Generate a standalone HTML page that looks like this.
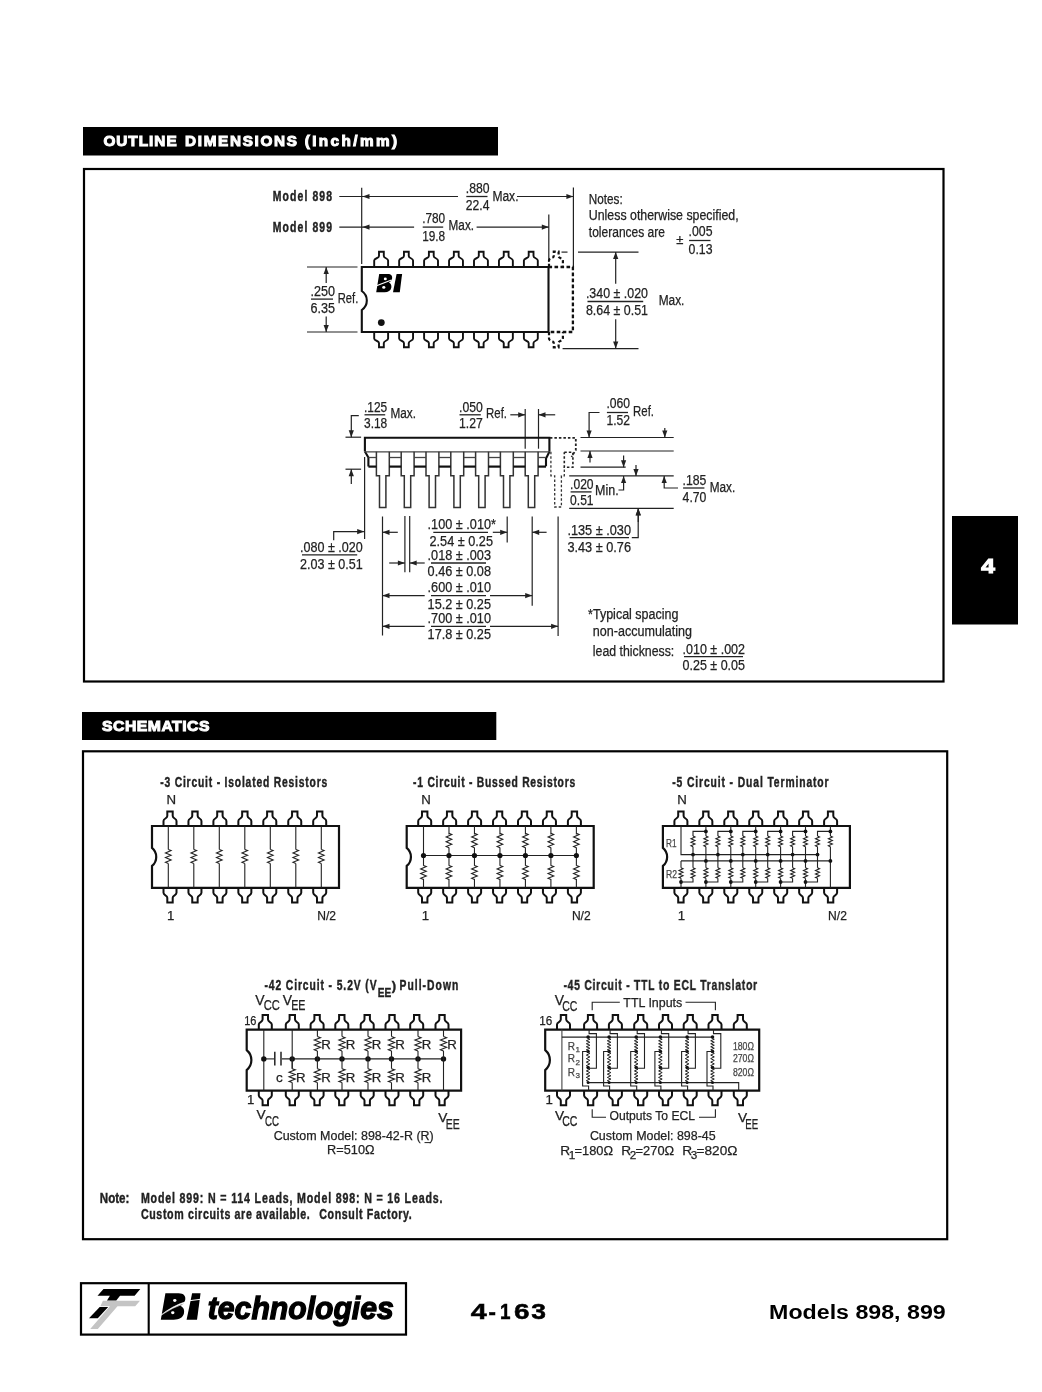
<!DOCTYPE html><html><head><meta charset="utf-8"><style>html,body{margin:0;padding:0;background:#fff;}svg{display:block;will-change:transform;font-family:"Liberation Sans", sans-serif;}</style></head><body><svg width="1042" height="1392" viewBox="0 0 1042 1392"><rect x="83" y="127" width="415" height="28.5" fill="#000"/>
<g transform="translate(103.4,145.8) scale(1.04,1) translate(-103.4,-145.8)"><text x="103.4" y="145.8" font-size="14.71" font-weight="bold" font-style="normal" fill="#fff" stroke="#fff" stroke-width="1.0" textLength="70.38" lengthAdjust="spacing">OUTLINE</text></g>
<g transform="translate(185,145.8) scale(1.04,1) translate(-185,-145.8)"><text x="185" y="145.8" font-size="14.71" font-weight="bold" font-style="normal" fill="#fff" stroke="#fff" stroke-width="1.0" textLength="107.69" lengthAdjust="spacing">DIMENSIONS</text></g>
<g transform="translate(304.7,145.8) scale(1.04,1) translate(-304.7,-145.8)"><text x="304.7" y="145.8" font-size="14.71" font-weight="bold" font-style="normal" fill="#fff" stroke="#fff" stroke-width="1.0" textLength="88.75" lengthAdjust="spacing">(Inch/mm)</text></g>
<rect x="84" y="169" width="859.5" height="512.5" fill="none" stroke="#000" stroke-width="2.2"/>
<rect x="952" y="516" width="66" height="108.5" fill="#000"/>
<text x="981.2" y="572.6" font-size="20" font-weight="bold" font-style="normal" fill="#fff" stroke="#fff" stroke-width="1.1" textLength="13.6" lengthAdjust="spacingAndGlyphs">4</text>
<rect x="82" y="712" width="414.3" height="28" fill="#000"/>
<g transform="translate(102,730.6) scale(1.04,1) translate(-102,-730.6)"><text x="102" y="730.6" font-size="15.15" font-weight="bold" font-style="normal" fill="#fff" stroke="#fff" stroke-width="1.0" textLength="103.37" lengthAdjust="spacing">SCHEMATICS</text></g>
<rect x="83" y="751.3" width="864.2" height="487.9" fill="none" stroke="#000" stroke-width="2.2"/>
<g transform="translate(272.8,201.5) scale(0.74,1) translate(-272.8,-201.5)"><text x="272.8" y="201.5" font-size="14.12" font-weight="bold" font-style="normal" fill="#222" stroke="#222" stroke-width="0.4" textLength="80" lengthAdjust="spacing">Model 898</text></g>
<g transform="translate(272.8,232.1) scale(0.74,1) translate(-272.8,-232.1)"><text x="272.8" y="232.1" font-size="14.12" font-weight="bold" font-style="normal" fill="#222" stroke="#222" stroke-width="0.4" textLength="80" lengthAdjust="spacing">Model 899</text></g>
<path d="M339.3,196.5 L458,196.5" fill="none" stroke="#222" stroke-width="1.2" stroke-linecap="butt" stroke-linejoin="miter"/>
<path d="M362.5,196.5 L369.5,193.9 L369.5,199.1Z" fill="#222"/>
<path d="M517,196.5 L573.4,196.5" fill="none" stroke="#222" stroke-width="1.2" stroke-linecap="butt" stroke-linejoin="miter"/>
<path d="M573.4,196.5 L566.4,193.9 L566.4,199.1Z" fill="#222"/>
<path d="M339.3,227.1 L414.1,227.1" fill="none" stroke="#222" stroke-width="1.2" stroke-linecap="butt" stroke-linejoin="miter"/>
<path d="M362.5,227.1 L369.5,224.5 L369.5,229.7Z" fill="#222"/>
<path d="M476.6,227.1 L548.8,227.1" fill="none" stroke="#222" stroke-width="1.2" stroke-linecap="butt" stroke-linejoin="miter"/>
<path d="M548.8,227.1 L541.8,224.5 L541.8,229.7Z" fill="#222"/>
<path d="M361.7,187.8 L361.7,264" fill="none" stroke="#222" stroke-width="1.2" stroke-linecap="butt" stroke-linejoin="miter"/>
<path d="M573.4,187.4 L573.4,267" fill="none" stroke="#222" stroke-width="1.2" stroke-linecap="butt" stroke-linejoin="miter"/>
<path d="M548.8,214.6 L548.8,262" fill="none" stroke="#222" stroke-width="1.2" stroke-linecap="butt" stroke-linejoin="miter"/>
<text x="465.8" y="193.1" font-size="14.41" font-weight="normal" font-style="normal" fill="#222" stroke="#222" stroke-width="0.25" textLength="23.7" lengthAdjust="spacingAndGlyphs">.880</text>
<text x="465.8" y="209.7" font-size="14.41" font-weight="normal" font-style="normal" fill="#222" stroke="#222" stroke-width="0.25" textLength="23.7" lengthAdjust="spacingAndGlyphs">22.4</text>
<path d="M466.3,196.5 L487.5,196.5" fill="none" stroke="#222" stroke-width="1.3" stroke-linecap="butt" stroke-linejoin="miter"/>
<text x="492.4" y="200.5" font-size="14.12" font-weight="normal" font-style="normal" fill="#222" stroke="#222" stroke-width="0.25" textLength="26.1" lengthAdjust="spacingAndGlyphs">Max.</text>
<text x="422.2" y="223.4" font-size="14.41" font-weight="normal" font-style="normal" fill="#222" stroke="#222" stroke-width="0.25" textLength="23" lengthAdjust="spacingAndGlyphs">.780</text>
<text x="422.2" y="240.6" font-size="14.41" font-weight="normal" font-style="normal" fill="#222" stroke="#222" stroke-width="0.25" textLength="23" lengthAdjust="spacingAndGlyphs">19.8</text>
<path d="M422.7,227.1 L443.2,227.1" fill="none" stroke="#222" stroke-width="1.3" stroke-linecap="butt" stroke-linejoin="miter"/>
<text x="448.6" y="230.4" font-size="14.12" font-weight="normal" font-style="normal" fill="#222" stroke="#222" stroke-width="0.25" textLength="25.4" lengthAdjust="spacingAndGlyphs">Max.</text>
<text x="588.8" y="203.5" font-size="13.82" font-weight="normal" font-style="normal" fill="#222" stroke="#222" stroke-width="0.25" textLength="33.9" lengthAdjust="spacingAndGlyphs">Notes:</text>
<text x="588.8" y="219.8" font-size="13.82" font-weight="normal" font-style="normal" fill="#222" stroke="#222" stroke-width="0.25" textLength="149.9" lengthAdjust="spacingAndGlyphs">Unless otherwise specified,</text>
<text x="588.8" y="236.6" font-size="13.82" font-weight="normal" font-style="normal" fill="#222" stroke="#222" stroke-width="0.25" textLength="76.2" lengthAdjust="spacingAndGlyphs">tolerances are</text>
<text x="679.8" y="243.8" text-anchor="middle" font-size="13" font-weight="normal" font-style="normal" fill="#222" stroke="#222" stroke-width="0.25">±</text>
<text x="688.6" y="236.4" font-size="14.41" font-weight="normal" font-style="normal" fill="#222" stroke="#222" stroke-width="0.25" textLength="23.9" lengthAdjust="spacingAndGlyphs">.005</text>
<text x="688.6" y="253.9" font-size="14.41" font-weight="normal" font-style="normal" fill="#222" stroke="#222" stroke-width="0.25" textLength="23.9" lengthAdjust="spacingAndGlyphs">0.13</text>
<path d="M689.1,240.5 L710.5,240.5" fill="none" stroke="#222" stroke-width="1.3" stroke-linecap="butt" stroke-linejoin="miter"/>
<path d="M361.8,267 H548.5 V332 H361.8 V310 A11.5,11.5 0 0 0 361.8,291 Z" fill="none" stroke="#111" stroke-width="2.1" stroke-linejoin="miter"/>
<path d="M374.2,267 V260.5 C374.2,257.95 379,258.55 379,256 V251.7 H383.8 V256 C383.8,258.55 388.1,257.95 388.1,260.5 V267" fill="none" stroke="#111" stroke-width="1.9" stroke-linejoin="miter"/>
<path d="M374.2,332 V338.5 C374.2,341.05 379,340.45 379,343 V347.3 H383.8 V343 C383.8,340.45 388.1,341.05 388.1,338.5 V332" fill="none" stroke="#111" stroke-width="1.9" stroke-linejoin="miter"/>
<path d="M399.15,267 V260.5 C399.15,257.95 403.95,258.55 403.95,256 V251.7 H408.75 V256 C408.75,258.55 413.05,257.95 413.05,260.5 V267" fill="none" stroke="#111" stroke-width="1.9" stroke-linejoin="miter"/>
<path d="M399.15,332 V338.5 C399.15,341.05 403.95,340.45 403.95,343 V347.3 H408.75 V343 C408.75,340.45 413.05,341.05 413.05,338.5 V332" fill="none" stroke="#111" stroke-width="1.9" stroke-linejoin="miter"/>
<path d="M424.1,267 V260.5 C424.1,257.95 428.9,258.55 428.9,256 V251.7 H433.7 V256 C433.7,258.55 438,257.95 438,260.5 V267" fill="none" stroke="#111" stroke-width="1.9" stroke-linejoin="miter"/>
<path d="M424.1,332 V338.5 C424.1,341.05 428.9,340.45 428.9,343 V347.3 H433.7 V343 C433.7,340.45 438,341.05 438,338.5 V332" fill="none" stroke="#111" stroke-width="1.9" stroke-linejoin="miter"/>
<path d="M449.05,267 V260.5 C449.05,257.95 453.85,258.55 453.85,256 V251.7 H458.65 V256 C458.65,258.55 462.95,257.95 462.95,260.5 V267" fill="none" stroke="#111" stroke-width="1.9" stroke-linejoin="miter"/>
<path d="M449.05,332 V338.5 C449.05,341.05 453.85,340.45 453.85,343 V347.3 H458.65 V343 C458.65,340.45 462.95,341.05 462.95,338.5 V332" fill="none" stroke="#111" stroke-width="1.9" stroke-linejoin="miter"/>
<path d="M474,267 V260.5 C474,257.95 478.8,258.55 478.8,256 V251.7 H483.6 V256 C483.6,258.55 487.9,257.95 487.9,260.5 V267" fill="none" stroke="#111" stroke-width="1.9" stroke-linejoin="miter"/>
<path d="M474,332 V338.5 C474,341.05 478.8,340.45 478.8,343 V347.3 H483.6 V343 C483.6,340.45 487.9,341.05 487.9,338.5 V332" fill="none" stroke="#111" stroke-width="1.9" stroke-linejoin="miter"/>
<path d="M498.95,267 V260.5 C498.95,257.95 503.75,258.55 503.75,256 V251.7 H508.55 V256 C508.55,258.55 512.85,257.95 512.85,260.5 V267" fill="none" stroke="#111" stroke-width="1.9" stroke-linejoin="miter"/>
<path d="M498.95,332 V338.5 C498.95,341.05 503.75,340.45 503.75,343 V347.3 H508.55 V343 C508.55,340.45 512.85,341.05 512.85,338.5 V332" fill="none" stroke="#111" stroke-width="1.9" stroke-linejoin="miter"/>
<path d="M523.9,267 V260.5 C523.9,257.95 528.7,258.55 528.7,256 V251.7 H533.5 V256 C533.5,258.55 537.8,257.95 537.8,260.5 V267" fill="none" stroke="#111" stroke-width="1.9" stroke-linejoin="miter"/>
<path d="M523.9,332 V338.5 C523.9,341.05 528.7,340.45 528.7,343 V347.3 H533.5 V343 C533.5,340.45 537.8,341.05 537.8,338.5 V332" fill="none" stroke="#111" stroke-width="1.9" stroke-linejoin="miter"/>
<path d="M549,267 V260.5 C549,257.95 553.8,258.55 553.8,256 V251.7 H558.6 V256 C558.6,258.55 562.9,257.95 562.9,260.5 V267" fill="none" stroke="#111" stroke-width="2.2" stroke-linejoin="miter" stroke-dasharray="3.2,2.3"/>
<path d="M549,332 V338.5 C549,341.05 553.8,340.45 553.8,343 V347.3 H558.6 V343 C558.6,340.45 562.9,341.05 562.9,338.5 V332" fill="none" stroke="#111" stroke-width="2.2" stroke-linejoin="miter" stroke-dasharray="3.2,2.3"/>
<path d="M548.5,267 L572.9,267 L572.9,332 L548.5,332" fill="none" stroke="#111" stroke-width="2.3" stroke-linecap="butt" stroke-linejoin="miter" stroke-dasharray="3.6,2.4"/>
<path d="M561.5,252.1 L567.5,252.1" fill="none" stroke="#222" stroke-width="1.2" stroke-linecap="butt" stroke-linejoin="miter"/>
<path d="M379.2,274 H387.8 C391.2,274 392.6,276 392.1,278.6 C391.7,280.6 390.3,282 388.8,282.6 C390.8,283.4 391.8,285.2 391.3,287.8 C390.7,290.8 388.2,292.2 384.6,292.2 H376.2 Z" fill="#000" stroke="none" stroke-width="0" stroke-linejoin="miter"/>
<ellipse cx="385.3" cy="278.9" rx="1.5" ry="1.3" fill="#fff"/>
<ellipse cx="383.8" cy="287.4" rx="1.6" ry="1.4" fill="#fff"/>
<path d="M396.6,274 H402.1 L399.8,292.2 H393 Z" fill="#000" stroke="none" stroke-width="0" stroke-linejoin="miter"/>
<path d="M376.5,285.8 L391.5,280" fill="none" stroke="#fff" stroke-width="1.2" stroke-linecap="butt" stroke-linejoin="miter"/>
<circle cx="381.3" cy="322.6" r="3.4" fill="#111"/>
<path d="M307,267 L357.5,267" fill="none" stroke="#222" stroke-width="1.2" stroke-linecap="butt" stroke-linejoin="miter"/>
<path d="M307,332 L357.5,332" fill="none" stroke="#222" stroke-width="1.2" stroke-linecap="butt" stroke-linejoin="miter"/>
<path d="M326.2,267 L326.2,283" fill="none" stroke="#222" stroke-width="1.2" stroke-linecap="butt" stroke-linejoin="miter"/>
<path d="M326.2,267 L323.6,274 L328.8,274Z" fill="#222"/>
<path d="M326.2,316.6 L326.2,332" fill="none" stroke="#222" stroke-width="1.2" stroke-linecap="butt" stroke-linejoin="miter"/>
<path d="M326.2,332 L323.6,325 L328.8,325Z" fill="#222"/>
<text x="310.5" y="295.8" font-size="14.41" font-weight="normal" font-style="normal" fill="#222" stroke="#222" stroke-width="0.25" textLength="24.5" lengthAdjust="spacingAndGlyphs">.250</text>
<text x="310.5" y="312.6" font-size="14.41" font-weight="normal" font-style="normal" fill="#222" stroke="#222" stroke-width="0.25" textLength="24.5" lengthAdjust="spacingAndGlyphs">6.35</text>
<path d="M311,299.1 L333,299.1" fill="none" stroke="#222" stroke-width="1.3" stroke-linecap="butt" stroke-linejoin="miter"/>
<text x="337.7" y="303.1" font-size="14.12" font-weight="normal" font-style="normal" fill="#222" stroke="#222" stroke-width="0.25" textLength="20.6" lengthAdjust="spacingAndGlyphs">Ref.</text>
<path d="M578,252.1 L638.5,252.1" fill="none" stroke="#222" stroke-width="1.2" stroke-linecap="butt" stroke-linejoin="miter"/>
<path d="M562.6,348.6 L638.5,348.6" fill="none" stroke="#222" stroke-width="1.2" stroke-linecap="butt" stroke-linejoin="miter"/>
<path d="M615.7,252.1 L615.7,283.7" fill="none" stroke="#222" stroke-width="1.2" stroke-linecap="butt" stroke-linejoin="miter"/>
<path d="M615.7,252.1 L613.1,259.1 L618.3,259.1Z" fill="#222"/>
<path d="M615.7,319.3 L615.7,348.6" fill="none" stroke="#222" stroke-width="1.2" stroke-linecap="butt" stroke-linejoin="miter"/>
<path d="M615.7,348.6 L613.1,341.6 L618.3,341.6Z" fill="#222"/>
<text x="585.9" y="297.5" font-size="14.41" font-weight="normal" font-style="normal" fill="#222" stroke="#222" stroke-width="0.25" textLength="62.1" lengthAdjust="spacingAndGlyphs">.340 ± .020</text>
<text x="585.9" y="314.6" font-size="14.41" font-weight="normal" font-style="normal" fill="#222" stroke="#222" stroke-width="0.25" textLength="62.1" lengthAdjust="spacingAndGlyphs">8.64 ± 0.51</text>
<path d="M587.5,301.5 L643.2,301.5" fill="none" stroke="#222" stroke-width="1.3" stroke-linecap="butt" stroke-linejoin="miter"/>
<text x="658.7" y="305.2" font-size="14.12" font-weight="normal" font-style="normal" fill="#222" stroke="#222" stroke-width="0.25" textLength="25.7" lengthAdjust="spacingAndGlyphs">Max.</text>
<text x="364" y="411.9" font-size="14.41" font-weight="normal" font-style="normal" fill="#222" stroke="#222" stroke-width="0.25" textLength="23.2" lengthAdjust="spacingAndGlyphs">.125</text>
<text x="364" y="428" font-size="14.41" font-weight="normal" font-style="normal" fill="#222" stroke="#222" stroke-width="0.25" textLength="23.2" lengthAdjust="spacingAndGlyphs">3.18</text>
<path d="M364.5,414.8 L385.2,414.8" fill="none" stroke="#222" stroke-width="1.3" stroke-linecap="butt" stroke-linejoin="miter"/>
<text x="390.5" y="418.2" font-size="14.12" font-weight="normal" font-style="normal" fill="#222" stroke="#222" stroke-width="0.25" textLength="25.5" lengthAdjust="spacingAndGlyphs">Max.</text>
<path d="M358.8,415.6 L351.3,415.6 L351.3,437.2" fill="none" stroke="#222" stroke-width="1.2" stroke-linecap="butt" stroke-linejoin="miter"/>
<path d="M351.3,437.2 L348.7,430.2 L353.9,430.2Z" fill="#222"/>
<path d="M345.5,437.2 L361.1,437.2" fill="none" stroke="#222" stroke-width="1.2" stroke-linecap="butt" stroke-linejoin="miter"/>
<path d="M345.5,469.2 L361.1,469.2" fill="none" stroke="#222" stroke-width="1.2" stroke-linecap="butt" stroke-linejoin="miter"/>
<path d="M351.3,469.2 L351.3,483.9" fill="none" stroke="#222" stroke-width="1.2" stroke-linecap="butt" stroke-linejoin="miter"/>
<path d="M351.3,469.2 L348.7,476.2 L353.9,476.2Z" fill="#222"/>
<text x="459" y="411.9" font-size="14.41" font-weight="normal" font-style="normal" fill="#222" stroke="#222" stroke-width="0.25" textLength="23.8" lengthAdjust="spacingAndGlyphs">.050</text>
<text x="459" y="428" font-size="14.41" font-weight="normal" font-style="normal" fill="#222" stroke="#222" stroke-width="0.25" textLength="23.8" lengthAdjust="spacingAndGlyphs">1.27</text>
<path d="M459.5,414.8 L480.8,414.8" fill="none" stroke="#222" stroke-width="1.3" stroke-linecap="butt" stroke-linejoin="miter"/>
<text x="486.1" y="418.2" font-size="14.12" font-weight="normal" font-style="normal" fill="#222" stroke="#222" stroke-width="0.25" textLength="20.9" lengthAdjust="spacingAndGlyphs">Ref.</text>
<path d="M510.3,414.8 L525.2,414.8" fill="none" stroke="#222" stroke-width="1.2" stroke-linecap="butt" stroke-linejoin="miter"/>
<path d="M525.2,414.8 L518.2,412.2 L518.2,417.4Z" fill="#222"/>
<path d="M538.5,414.8 L555.2,414.8" fill="none" stroke="#222" stroke-width="1.2" stroke-linecap="butt" stroke-linejoin="miter"/>
<path d="M538.5,414.8 L545.5,412.2 L545.5,417.4Z" fill="#222"/>
<path d="M525.2,409 L525.2,448.7" fill="none" stroke="#222" stroke-width="1.2" stroke-linecap="butt" stroke-linejoin="miter"/>
<path d="M538.5,409 L538.5,448.7" fill="none" stroke="#222" stroke-width="1.2" stroke-linecap="butt" stroke-linejoin="miter"/>
<text x="606.4" y="408.1" font-size="14.41" font-weight="normal" font-style="normal" fill="#222" stroke="#222" stroke-width="0.25" textLength="23.6" lengthAdjust="spacingAndGlyphs">.060</text>
<text x="606.4" y="425.4" font-size="14.41" font-weight="normal" font-style="normal" fill="#222" stroke="#222" stroke-width="0.25" textLength="23.6" lengthAdjust="spacingAndGlyphs">1.52</text>
<path d="M606.9,412.5 L628,412.5" fill="none" stroke="#222" stroke-width="1.3" stroke-linecap="butt" stroke-linejoin="miter"/>
<text x="633.1" y="415.9" font-size="14.12" font-weight="normal" font-style="normal" fill="#222" stroke="#222" stroke-width="0.25" textLength="20.9" lengthAdjust="spacingAndGlyphs">Ref.</text>
<path d="M599.5,412.5 L589.1,412.5 L589.1,437.5" fill="none" stroke="#222" stroke-width="1.2" stroke-linecap="butt" stroke-linejoin="miter"/>
<path d="M589.1,437.5 L586.5,430.5 L591.7,430.5Z" fill="#222"/>
<path d="M580.5,437.5 L673.7,437.5" fill="none" stroke="#222" stroke-width="1.2" stroke-linecap="butt" stroke-linejoin="miter"/>
<path d="M580.5,451 L673.7,451" fill="none" stroke="#222" stroke-width="1.2" stroke-linecap="butt" stroke-linejoin="miter"/>
<path d="M580.5,467.2 L625.7,467.2" fill="none" stroke="#222" stroke-width="1.2" stroke-linecap="butt" stroke-linejoin="miter"/>
<path d="M569.2,475.9 L673.7,475.9" fill="none" stroke="#222" stroke-width="1.2" stroke-linecap="butt" stroke-linejoin="miter"/>
<path d="M569.2,508.3 L673.7,508.3" fill="none" stroke="#222" stroke-width="1.2" stroke-linecap="butt" stroke-linejoin="miter"/>
<path d="M664.8,428 L664.8,437.5" fill="none" stroke="#222" stroke-width="1.2" stroke-linecap="butt" stroke-linejoin="miter"/>
<path d="M664.8,437.5 L662.2,430.5 L667.4,430.5Z" fill="#222"/>
<path d="M590,451 L590,462.5" fill="none" stroke="#222" stroke-width="1.2" stroke-linecap="butt" stroke-linejoin="miter"/>
<path d="M590,451 L587.4,458 L592.6,458Z" fill="#222"/>
<path d="M623.6,455.6 L623.6,467.2" fill="none" stroke="#222" stroke-width="1.2" stroke-linecap="butt" stroke-linejoin="miter"/>
<path d="M623.6,467.2 L621,460.2 L626.2,460.2Z" fill="#222"/>
<path d="M636,465.1 L636,475.9" fill="none" stroke="#222" stroke-width="1.2" stroke-linecap="butt" stroke-linejoin="miter"/>
<path d="M636,475.9 L633.4,468.9 L638.6,468.9Z" fill="#222"/>
<text x="570.1" y="488.5" font-size="14.41" font-weight="normal" font-style="normal" fill="#222" stroke="#222" stroke-width="0.25" textLength="23.5" lengthAdjust="spacingAndGlyphs">.020</text>
<text x="570.1" y="504.9" font-size="14.41" font-weight="normal" font-style="normal" fill="#222" stroke="#222" stroke-width="0.25" textLength="23.5" lengthAdjust="spacingAndGlyphs">0.51</text>
<path d="M570.6,491.9 L591.6,491.9" fill="none" stroke="#222" stroke-width="1.3" stroke-linecap="butt" stroke-linejoin="miter"/>
<text x="595.1" y="495.4" font-size="14.12" font-weight="normal" font-style="normal" fill="#222" stroke="#222" stroke-width="0.25" textLength="23.6" lengthAdjust="spacingAndGlyphs">Min.</text>
<path d="M618.5,490 L623.6,490 L623.6,475.9" fill="none" stroke="#222" stroke-width="1.2" stroke-linecap="butt" stroke-linejoin="miter"/>
<path d="M623.6,475.9 L621,482.9 L626.2,482.9Z" fill="#222"/>
<text x="682.6" y="484.8" font-size="14.41" font-weight="normal" font-style="normal" fill="#222" stroke="#222" stroke-width="0.25" textLength="23.8" lengthAdjust="spacingAndGlyphs">.185</text>
<text x="682.6" y="501.5" font-size="14.41" font-weight="normal" font-style="normal" fill="#222" stroke="#222" stroke-width="0.25" textLength="23.8" lengthAdjust="spacingAndGlyphs">4.70</text>
<path d="M683.1,488 L704.4,488" fill="none" stroke="#222" stroke-width="1.3" stroke-linecap="butt" stroke-linejoin="miter"/>
<text x="709.7" y="491.7" font-size="14.12" font-weight="normal" font-style="normal" fill="#222" stroke="#222" stroke-width="0.25" textLength="25.5" lengthAdjust="spacingAndGlyphs">Max.</text>
<path d="M678,488 L664.2,488 L664.2,476" fill="none" stroke="#222" stroke-width="1.2" stroke-linecap="butt" stroke-linejoin="miter"/>
<path d="M664.2,476 L661.6,483 L666.8,483Z" fill="#222"/>
<path d="M638.3,508.3 L638.3,522" fill="none" stroke="#222" stroke-width="1.2" stroke-linecap="butt" stroke-linejoin="miter"/>
<path d="M638.3,508.3 L635.7,515.3 L640.9,515.3Z" fill="#222"/>
<text x="567.4" y="534.6" font-size="14.41" font-weight="normal" font-style="normal" fill="#222" stroke="#222" stroke-width="0.25" textLength="63.6" lengthAdjust="spacingAndGlyphs">.135 ± .030</text>
<text x="567.4" y="551.5" font-size="14.41" font-weight="normal" font-style="normal" fill="#222" stroke="#222" stroke-width="0.25" textLength="63.6" lengthAdjust="spacingAndGlyphs">3.43 ± 0.76</text>
<path d="M569.6,537.7 L629,537.7" fill="none" stroke="#222" stroke-width="1.3" stroke-linecap="butt" stroke-linejoin="miter"/>
<path d="M631.8,537.7 L638.2,537.7 L638.2,509.2" fill="none" stroke="#222" stroke-width="1.2" stroke-linecap="butt" stroke-linejoin="miter"/>
<path d="M638.2,508.6 L635.6,515.6 L640.8,515.6Z" fill="#222"/>
<path d="M364.9,451.5 L364.9,437.7 L549.4,437.7 L549.4,451.8" fill="none" stroke="#111" stroke-width="2.1" stroke-linecap="butt" stroke-linejoin="miter"/>
<path d="M364.9,451.5 L368.4,457.5 L368.4,466.6" fill="none" stroke="#111" stroke-width="2.1" stroke-linecap="butt" stroke-linejoin="miter"/>
<path d="M549.4,451.8 L546,458.5 L546,466.2" fill="none" stroke="#111" stroke-width="2.1" stroke-linecap="butt" stroke-linejoin="miter"/>
<path d="M364.9,451.8 L549.4,451.8" fill="none" stroke="#444" stroke-width="1.3" stroke-linecap="butt" stroke-linejoin="miter"/>
<path d="M376.4,451.8 L376.4,475.7 L379.5,475.7 L379.5,507.6 L385.9,507.6 L385.9,475.7 L389.3,475.7 L389.3,451.8" fill="none" stroke="#333" stroke-width="1.5" stroke-linecap="butt" stroke-linejoin="miter"/>
<path d="M401.2,451.8 L401.2,475.7 L404.3,475.7 L404.3,507.6 L410.7,507.6 L410.7,475.7 L414.1,475.7 L414.1,451.8" fill="none" stroke="#333" stroke-width="1.5" stroke-linecap="butt" stroke-linejoin="miter"/>
<path d="M426,451.8 L426,475.7 L429.1,475.7 L429.1,507.6 L435.5,507.6 L435.5,475.7 L438.9,475.7 L438.9,451.8" fill="none" stroke="#333" stroke-width="1.5" stroke-linecap="butt" stroke-linejoin="miter"/>
<path d="M450.8,451.8 L450.8,475.7 L453.9,475.7 L453.9,507.6 L460.3,507.6 L460.3,475.7 L463.7,475.7 L463.7,451.8" fill="none" stroke="#333" stroke-width="1.5" stroke-linecap="butt" stroke-linejoin="miter"/>
<path d="M475.6,451.8 L475.6,475.7 L478.7,475.7 L478.7,507.6 L485.1,507.6 L485.1,475.7 L488.5,475.7 L488.5,451.8" fill="none" stroke="#333" stroke-width="1.5" stroke-linecap="butt" stroke-linejoin="miter"/>
<path d="M500.4,451.8 L500.4,475.7 L503.5,475.7 L503.5,507.6 L509.9,507.6 L509.9,475.7 L513.3,475.7 L513.3,451.8" fill="none" stroke="#333" stroke-width="1.5" stroke-linecap="butt" stroke-linejoin="miter"/>
<path d="M525.2,451.8 L525.2,475.7 L528.3,475.7 L528.3,507.6 L534.7,507.6 L534.7,475.7 L538.1,475.7 L538.1,451.8" fill="none" stroke="#333" stroke-width="1.5" stroke-linecap="butt" stroke-linejoin="miter"/>
<path d="M368.4,466.6 L376.4,466.6" fill="none" stroke="#111" stroke-width="2.2" stroke-linecap="butt" stroke-linejoin="miter"/>
<path d="M368.4,457.5 L376.4,457.5" fill="none" stroke="#444" stroke-width="1.3" stroke-linecap="butt" stroke-linejoin="miter"/>
<path d="M389.3,466.6 L401.2,466.6" fill="none" stroke="#111" stroke-width="2.2" stroke-linecap="butt" stroke-linejoin="miter"/>
<path d="M389.3,457.5 L401.2,457.5" fill="none" stroke="#444" stroke-width="1.3" stroke-linecap="butt" stroke-linejoin="miter"/>
<path d="M414.1,466.6 L426,466.6" fill="none" stroke="#111" stroke-width="2.2" stroke-linecap="butt" stroke-linejoin="miter"/>
<path d="M414.1,457.5 L426,457.5" fill="none" stroke="#444" stroke-width="1.3" stroke-linecap="butt" stroke-linejoin="miter"/>
<path d="M438.9,466.6 L450.8,466.6" fill="none" stroke="#111" stroke-width="2.2" stroke-linecap="butt" stroke-linejoin="miter"/>
<path d="M438.9,457.5 L450.8,457.5" fill="none" stroke="#444" stroke-width="1.3" stroke-linecap="butt" stroke-linejoin="miter"/>
<path d="M463.7,466.6 L475.6,466.6" fill="none" stroke="#111" stroke-width="2.2" stroke-linecap="butt" stroke-linejoin="miter"/>
<path d="M463.7,457.5 L475.6,457.5" fill="none" stroke="#444" stroke-width="1.3" stroke-linecap="butt" stroke-linejoin="miter"/>
<path d="M488.5,466.6 L500.4,466.6" fill="none" stroke="#111" stroke-width="2.2" stroke-linecap="butt" stroke-linejoin="miter"/>
<path d="M488.5,457.5 L500.4,457.5" fill="none" stroke="#444" stroke-width="1.3" stroke-linecap="butt" stroke-linejoin="miter"/>
<path d="M513.3,466.6 L525.2,466.6" fill="none" stroke="#111" stroke-width="2.2" stroke-linecap="butt" stroke-linejoin="miter"/>
<path d="M513.3,457.5 L525.2,457.5" fill="none" stroke="#444" stroke-width="1.3" stroke-linecap="butt" stroke-linejoin="miter"/>
<path d="M538.1,466.6 L546,466.6" fill="none" stroke="#111" stroke-width="2.2" stroke-linecap="butt" stroke-linejoin="miter"/>
<path d="M538.1,457.5 L546,457.5" fill="none" stroke="#444" stroke-width="1.3" stroke-linecap="butt" stroke-linejoin="miter"/>
<path d="M549.9,437.9 L575.8,437.9 L575.8,449.9 L571.5,457" fill="none" stroke="#222" stroke-width="1.8" stroke-linecap="butt" stroke-linejoin="miter" stroke-dasharray="2.5,2"/>
<path d="M564.3,452.3 L572.9,452.3 L572.9,467.2 L564.3,467.2 L564.3,452.3" fill="none" stroke="#222" stroke-width="1.6" stroke-linecap="butt" stroke-linejoin="miter" stroke-dasharray="2.5,2"/>
<path d="M550.9,451.8 L550.9,475.8 L554.7,475.8 L554.7,507 L561.4,507 L561.4,475.8 L564.3,475.8 L564.3,467" fill="none" stroke="#333" stroke-width="1.3" stroke-linecap="butt" stroke-linejoin="miter" stroke-dasharray="2.5,2"/>
<path d="M364.6,456.9 L364.6,539" fill="none" stroke="#222" stroke-width="1.2" stroke-linecap="butt" stroke-linejoin="miter"/>
<path d="M382.5,516.5 L382.5,635.5" fill="none" stroke="#222" stroke-width="1.2" stroke-linecap="butt" stroke-linejoin="miter"/>
<path d="M404.9,516.1 L404.9,572.2" fill="none" stroke="#222" stroke-width="1.2" stroke-linecap="butt" stroke-linejoin="miter"/>
<path d="M409.7,516.1 L409.7,572.2" fill="none" stroke="#222" stroke-width="1.2" stroke-linecap="butt" stroke-linejoin="miter"/>
<path d="M507.2,516.5 L507.2,542.4" fill="none" stroke="#222" stroke-width="1.2" stroke-linecap="butt" stroke-linejoin="miter"/>
<path d="M532.2,516.5 L532.2,605.8" fill="none" stroke="#222" stroke-width="1.2" stroke-linecap="butt" stroke-linejoin="miter"/>
<path d="M558.1,516.5 L558.1,635.9" fill="none" stroke="#222" stroke-width="1.2" stroke-linecap="butt" stroke-linejoin="miter"/>
<path d="M333.7,540.3 L333.7,531.6 L363.9,531.6" fill="none" stroke="#222" stroke-width="1.2" stroke-linecap="butt" stroke-linejoin="miter"/>
<path d="M364.2,531.6 L357.2,529 L357.2,534.2Z" fill="#222"/>
<text x="300.1" y="551.7" font-size="14.41" font-weight="normal" font-style="normal" fill="#222" stroke="#222" stroke-width="0.25" textLength="62.7" lengthAdjust="spacingAndGlyphs">.080 ± .020</text>
<text x="300.1" y="568.5" font-size="14.41" font-weight="normal" font-style="normal" fill="#222" stroke="#222" stroke-width="0.25" textLength="62.7" lengthAdjust="spacingAndGlyphs">2.03 ± 0.51</text>
<path d="M302,554.8 L357.2,554.8" fill="none" stroke="#222" stroke-width="1.3" stroke-linecap="butt" stroke-linejoin="miter"/>
<path d="M382.5,532.3 L397.8,532.3" fill="none" stroke="#222" stroke-width="1.2" stroke-linecap="butt" stroke-linejoin="miter"/>
<path d="M382.5,532.3 L389.5,529.7 L389.5,534.9Z" fill="#222"/>
<path d="M492.8,532.3 L507.2,532.3" fill="none" stroke="#222" stroke-width="1.2" stroke-linecap="butt" stroke-linejoin="miter"/>
<path d="M507.2,532.3 L500.2,529.7 L500.2,534.9Z" fill="#222"/>
<path d="M532.2,532.3 L546.6,532.3" fill="none" stroke="#222" stroke-width="1.2" stroke-linecap="butt" stroke-linejoin="miter"/>
<path d="M532.2,532.3 L539.2,529.7 L539.2,534.9Z" fill="#222"/>
<path d="M389.2,563 L404.9,563" fill="none" stroke="#222" stroke-width="1.2" stroke-linecap="butt" stroke-linejoin="miter"/>
<path d="M404.9,563 L397.9,560.4 L397.9,565.6Z" fill="#222"/>
<path d="M409.7,563 L424.7,563" fill="none" stroke="#222" stroke-width="1.2" stroke-linecap="butt" stroke-linejoin="miter"/>
<path d="M409.7,563 L416.7,560.4 L416.7,565.6Z" fill="#222"/>
<path d="M382.5,595.6 L424.7,595.6" fill="none" stroke="#222" stroke-width="1.2" stroke-linecap="butt" stroke-linejoin="miter"/>
<path d="M382.5,595.6 L389.5,593 L389.5,598.2Z" fill="#222"/>
<path d="M490,595.6 L532.2,595.6" fill="none" stroke="#222" stroke-width="1.2" stroke-linecap="butt" stroke-linejoin="miter"/>
<path d="M532.2,595.6 L525.2,593 L525.2,598.2Z" fill="#222"/>
<path d="M382.5,626.3 L424.7,626.3" fill="none" stroke="#222" stroke-width="1.2" stroke-linecap="butt" stroke-linejoin="miter"/>
<path d="M382.5,626.3 L389.5,623.7 L389.5,628.9Z" fill="#222"/>
<path d="M490,626.3 L558.1,626.3" fill="none" stroke="#222" stroke-width="1.2" stroke-linecap="butt" stroke-linejoin="miter"/>
<path d="M558.1,626.3 L551.1,623.7 L551.1,628.9Z" fill="#222"/>
<text x="427.6" y="529" font-size="14.41" font-weight="normal" font-style="normal" fill="#222" stroke="#222" stroke-width="0.25" textLength="68.4" lengthAdjust="spacingAndGlyphs">.100 ± .010*</text>
<path d="M433.3,532.3 L488,532.3" fill="none" stroke="#222" stroke-width="1.3" stroke-linecap="butt" stroke-linejoin="miter"/>
<text x="429.5" y="545.7" font-size="14.41" font-weight="normal" font-style="normal" fill="#222" stroke="#222" stroke-width="0.25" textLength="63.5" lengthAdjust="spacingAndGlyphs">2.54 ± 0.25</text>
<text x="427.6" y="559.7" font-size="14.41" font-weight="normal" font-style="normal" fill="#222" stroke="#222" stroke-width="0.25" textLength="63.4" lengthAdjust="spacingAndGlyphs">.018 ± .003</text>
<text x="427.6" y="576.4" font-size="14.41" font-weight="normal" font-style="normal" fill="#222" stroke="#222" stroke-width="0.25" textLength="63.4" lengthAdjust="spacingAndGlyphs">0.46 ± 0.08</text>
<path d="M431,563 L486,563" fill="none" stroke="#222" stroke-width="1.3" stroke-linecap="butt" stroke-linejoin="miter"/>
<text x="427.6" y="592.3" font-size="14.41" font-weight="normal" font-style="normal" fill="#222" stroke="#222" stroke-width="0.25" textLength="63.4" lengthAdjust="spacingAndGlyphs">.600 ± .010</text>
<text x="427.6" y="608.6" font-size="14.41" font-weight="normal" font-style="normal" fill="#222" stroke="#222" stroke-width="0.25" textLength="63.4" lengthAdjust="spacingAndGlyphs">15.2 ± 0.25</text>
<path d="M431,595.6 L486,595.6" fill="none" stroke="#222" stroke-width="1.3" stroke-linecap="butt" stroke-linejoin="miter"/>
<text x="427.6" y="623" font-size="14.41" font-weight="normal" font-style="normal" fill="#222" stroke="#222" stroke-width="0.25" textLength="63.4" lengthAdjust="spacingAndGlyphs">.700 ± .010</text>
<text x="427.6" y="639.4" font-size="14.41" font-weight="normal" font-style="normal" fill="#222" stroke="#222" stroke-width="0.25" textLength="63.4" lengthAdjust="spacingAndGlyphs">17.8 ± 0.25</text>
<path d="M431,626.3 L486,626.3" fill="none" stroke="#222" stroke-width="1.3" stroke-linecap="butt" stroke-linejoin="miter"/>
<text x="588.1" y="619" font-size="14.12" font-weight="normal" font-style="normal" fill="#222" stroke="#222" stroke-width="0.25" textLength="90.4" lengthAdjust="spacingAndGlyphs">*Typical spacing</text>
<text x="592.8" y="635.5" font-size="14.12" font-weight="normal" font-style="normal" fill="#222" stroke="#222" stroke-width="0.25" textLength="99.2" lengthAdjust="spacingAndGlyphs">non-accumulating</text>
<text x="592.8" y="656" font-size="14.12" font-weight="normal" font-style="normal" fill="#222" stroke="#222" stroke-width="0.25" textLength="81.5" lengthAdjust="spacingAndGlyphs">lead thickness:</text>
<text x="682.5" y="653.9" font-size="14.41" font-weight="normal" font-style="normal" fill="#222" stroke="#222" stroke-width="0.25" textLength="62.5" lengthAdjust="spacingAndGlyphs">.010 ± .002</text>
<text x="682.5" y="669.7" font-size="14.41" font-weight="normal" font-style="normal" fill="#222" stroke="#222" stroke-width="0.25" textLength="62.5" lengthAdjust="spacingAndGlyphs">0.25 ± 0.05</text>
<path d="M684,656.6 L743,656.6" fill="none" stroke="#222" stroke-width="1.3" stroke-linecap="butt" stroke-linejoin="miter"/>
<g transform="translate(160.2,786.8) scale(0.74,1) translate(-160.2,-786.8)"><text x="160.2" y="786.8" font-size="13.97" font-weight="bold" font-style="normal" fill="#222" stroke="#222" stroke-width="0.4" textLength="225.68" lengthAdjust="spacing">-3 Circuit - Isolated Resistors</text></g>
<path d="M152,826 H339 V887.8 H152 V865.9 A11.700000000000001,11.700000000000001 0 0 0 152,847.9 Z" fill="none" stroke="#111" stroke-width="2.2" stroke-linejoin="miter"/>
<path d="M163.5,826 V821 C163.5,818.2 167.3,818.8 167.3,816 V811.4 H172.7 V816 C172.7,818.8 176.5,818.2 176.5,821 V826" fill="none" stroke="#111" stroke-width="2" stroke-linejoin="miter"/>
<path d="M163.5,887.8 V892.8 C163.5,895.6 167.3,895 167.3,897.8 V902.4 H172.7 V897.8 C172.7,895 176.5,895.6 176.5,892.8 V887.8" fill="none" stroke="#111" stroke-width="2" stroke-linejoin="miter"/>
<path d="M188.45,826 V821 C188.45,818.2 192.25,818.8 192.25,816 V811.4 H197.65 V816 C197.65,818.8 201.45,818.2 201.45,821 V826" fill="none" stroke="#111" stroke-width="2" stroke-linejoin="miter"/>
<path d="M188.45,887.8 V892.8 C188.45,895.6 192.25,895 192.25,897.8 V902.4 H197.65 V897.8 C197.65,895 201.45,895.6 201.45,892.8 V887.8" fill="none" stroke="#111" stroke-width="2" stroke-linejoin="miter"/>
<path d="M213.4,826 V821 C213.4,818.2 217.2,818.8 217.2,816 V811.4 H222.6 V816 C222.6,818.8 226.4,818.2 226.4,821 V826" fill="none" stroke="#111" stroke-width="2" stroke-linejoin="miter"/>
<path d="M213.4,887.8 V892.8 C213.4,895.6 217.2,895 217.2,897.8 V902.4 H222.6 V897.8 C222.6,895 226.4,895.6 226.4,892.8 V887.8" fill="none" stroke="#111" stroke-width="2" stroke-linejoin="miter"/>
<path d="M238.35,826 V821 C238.35,818.2 242.15,818.8 242.15,816 V811.4 H247.55 V816 C247.55,818.8 251.35,818.2 251.35,821 V826" fill="none" stroke="#111" stroke-width="2" stroke-linejoin="miter"/>
<path d="M238.35,887.8 V892.8 C238.35,895.6 242.15,895 242.15,897.8 V902.4 H247.55 V897.8 C247.55,895 251.35,895.6 251.35,892.8 V887.8" fill="none" stroke="#111" stroke-width="2" stroke-linejoin="miter"/>
<path d="M263.3,826 V821 C263.3,818.2 267.1,818.8 267.1,816 V811.4 H272.5 V816 C272.5,818.8 276.3,818.2 276.3,821 V826" fill="none" stroke="#111" stroke-width="2" stroke-linejoin="miter"/>
<path d="M263.3,887.8 V892.8 C263.3,895.6 267.1,895 267.1,897.8 V902.4 H272.5 V897.8 C272.5,895 276.3,895.6 276.3,892.8 V887.8" fill="none" stroke="#111" stroke-width="2" stroke-linejoin="miter"/>
<path d="M288.25,826 V821 C288.25,818.2 292.05,818.8 292.05,816 V811.4 H297.45 V816 C297.45,818.8 301.25,818.2 301.25,821 V826" fill="none" stroke="#111" stroke-width="2" stroke-linejoin="miter"/>
<path d="M288.25,887.8 V892.8 C288.25,895.6 292.05,895 292.05,897.8 V902.4 H297.45 V897.8 C297.45,895 301.25,895.6 301.25,892.8 V887.8" fill="none" stroke="#111" stroke-width="2" stroke-linejoin="miter"/>
<path d="M313.2,826 V821 C313.2,818.2 317,818.8 317,816 V811.4 H322.4 V816 C322.4,818.8 326.2,818.2 326.2,821 V826" fill="none" stroke="#111" stroke-width="2" stroke-linejoin="miter"/>
<path d="M313.2,887.8 V892.8 C313.2,895.6 317,895 317,897.8 V902.4 H322.4 V897.8 C322.4,895 326.2,895.6 326.2,892.8 V887.8" fill="none" stroke="#111" stroke-width="2" stroke-linejoin="miter"/>
<text x="171.25" y="804.3" text-anchor="middle" font-size="13.24" font-weight="normal" font-style="normal" fill="#222" stroke="#222" stroke-width="0.25">N</text>
<text x="170.65" y="920.2" text-anchor="middle" font-size="13.24" font-weight="normal" font-style="normal" fill="#222" stroke="#222" stroke-width="0.25">1</text>
<text x="317.2" y="920.2" font-size="13.24" font-weight="normal" font-style="normal" fill="#222" stroke="#222" stroke-width="0.25" textLength="18.8" lengthAdjust="spacingAndGlyphs">N/2</text>
<path d="M168.3,826 L168.3,849.6" fill="none" stroke="#222" stroke-width="1.1" stroke-linecap="butt" stroke-linejoin="miter"/>
<path d="M168.3,849.4 L171.1,850.57 L165.5,852.9 L171.1,855.23 L165.5,857.57 L171.1,859.9 L165.5,862.23 L168.3,863.4" fill="none" stroke="#222" stroke-width="1.1" stroke-linecap="butt" stroke-linejoin="miter"/>
<path d="M168.3,863.4 L168.3,887.8" fill="none" stroke="#222" stroke-width="1.1" stroke-linecap="butt" stroke-linejoin="miter"/>
<path d="M193.8,826 L193.8,849.6" fill="none" stroke="#222" stroke-width="1.1" stroke-linecap="butt" stroke-linejoin="miter"/>
<path d="M193.8,849.4 L196.6,850.57 L191,852.9 L196.6,855.23 L191,857.57 L196.6,859.9 L191,862.23 L193.8,863.4" fill="none" stroke="#222" stroke-width="1.1" stroke-linecap="butt" stroke-linejoin="miter"/>
<path d="M193.8,863.4 L193.8,887.8" fill="none" stroke="#222" stroke-width="1.1" stroke-linecap="butt" stroke-linejoin="miter"/>
<path d="M219.3,826 L219.3,849.6" fill="none" stroke="#222" stroke-width="1.1" stroke-linecap="butt" stroke-linejoin="miter"/>
<path d="M219.3,849.4 L222.1,850.57 L216.5,852.9 L222.1,855.23 L216.5,857.57 L222.1,859.9 L216.5,862.23 L219.3,863.4" fill="none" stroke="#222" stroke-width="1.1" stroke-linecap="butt" stroke-linejoin="miter"/>
<path d="M219.3,863.4 L219.3,887.8" fill="none" stroke="#222" stroke-width="1.1" stroke-linecap="butt" stroke-linejoin="miter"/>
<path d="M244.8,826 L244.8,849.6" fill="none" stroke="#222" stroke-width="1.1" stroke-linecap="butt" stroke-linejoin="miter"/>
<path d="M244.8,849.4 L247.6,850.57 L242,852.9 L247.6,855.23 L242,857.57 L247.6,859.9 L242,862.23 L244.8,863.4" fill="none" stroke="#222" stroke-width="1.1" stroke-linecap="butt" stroke-linejoin="miter"/>
<path d="M244.8,863.4 L244.8,887.8" fill="none" stroke="#222" stroke-width="1.1" stroke-linecap="butt" stroke-linejoin="miter"/>
<path d="M270.3,826 L270.3,849.6" fill="none" stroke="#222" stroke-width="1.1" stroke-linecap="butt" stroke-linejoin="miter"/>
<path d="M270.3,849.4 L273.1,850.57 L267.5,852.9 L273.1,855.23 L267.5,857.57 L273.1,859.9 L267.5,862.23 L270.3,863.4" fill="none" stroke="#222" stroke-width="1.1" stroke-linecap="butt" stroke-linejoin="miter"/>
<path d="M270.3,863.4 L270.3,887.8" fill="none" stroke="#222" stroke-width="1.1" stroke-linecap="butt" stroke-linejoin="miter"/>
<path d="M295.8,826 L295.8,849.6" fill="none" stroke="#222" stroke-width="1.1" stroke-linecap="butt" stroke-linejoin="miter"/>
<path d="M295.8,849.4 L298.6,850.57 L293,852.9 L298.6,855.23 L293,857.57 L298.6,859.9 L293,862.23 L295.8,863.4" fill="none" stroke="#222" stroke-width="1.1" stroke-linecap="butt" stroke-linejoin="miter"/>
<path d="M295.8,863.4 L295.8,887.8" fill="none" stroke="#222" stroke-width="1.1" stroke-linecap="butt" stroke-linejoin="miter"/>
<path d="M321.3,826 L321.3,849.6" fill="none" stroke="#222" stroke-width="1.1" stroke-linecap="butt" stroke-linejoin="miter"/>
<path d="M321.3,849.4 L324.1,850.57 L318.5,852.9 L324.1,855.23 L318.5,857.57 L324.1,859.9 L318.5,862.23 L321.3,863.4" fill="none" stroke="#222" stroke-width="1.1" stroke-linecap="butt" stroke-linejoin="miter"/>
<path d="M321.3,863.4 L321.3,887.8" fill="none" stroke="#222" stroke-width="1.1" stroke-linecap="butt" stroke-linejoin="miter"/>
<g transform="translate(413.1,786.8) scale(0.74,1) translate(-413.1,-786.8)"><text x="413.1" y="786.8" font-size="13.97" font-weight="bold" font-style="normal" fill="#222" stroke="#222" stroke-width="0.4" textLength="219.05" lengthAdjust="spacing">-1 Circuit - Bussed Resistors</text></g>
<path d="M406.7,826 H593.7 V887.8 H406.7 V865.9 A11.700000000000001,11.700000000000001 0 0 0 406.7,847.9 Z" fill="none" stroke="#111" stroke-width="2.2" stroke-linejoin="miter"/>
<path d="M418.2,826 V821 C418.2,818.2 422,818.8 422,816 V811.4 H427.4 V816 C427.4,818.8 431.2,818.2 431.2,821 V826" fill="none" stroke="#111" stroke-width="2" stroke-linejoin="miter"/>
<path d="M418.2,887.8 V892.8 C418.2,895.6 422,895 422,897.8 V902.4 H427.4 V897.8 C427.4,895 431.2,895.6 431.2,892.8 V887.8" fill="none" stroke="#111" stroke-width="2" stroke-linejoin="miter"/>
<path d="M443.15,826 V821 C443.15,818.2 446.95,818.8 446.95,816 V811.4 H452.35 V816 C452.35,818.8 456.15,818.2 456.15,821 V826" fill="none" stroke="#111" stroke-width="2" stroke-linejoin="miter"/>
<path d="M443.15,887.8 V892.8 C443.15,895.6 446.95,895 446.95,897.8 V902.4 H452.35 V897.8 C452.35,895 456.15,895.6 456.15,892.8 V887.8" fill="none" stroke="#111" stroke-width="2" stroke-linejoin="miter"/>
<path d="M468.1,826 V821 C468.1,818.2 471.9,818.8 471.9,816 V811.4 H477.3 V816 C477.3,818.8 481.1,818.2 481.1,821 V826" fill="none" stroke="#111" stroke-width="2" stroke-linejoin="miter"/>
<path d="M468.1,887.8 V892.8 C468.1,895.6 471.9,895 471.9,897.8 V902.4 H477.3 V897.8 C477.3,895 481.1,895.6 481.1,892.8 V887.8" fill="none" stroke="#111" stroke-width="2" stroke-linejoin="miter"/>
<path d="M493.05,826 V821 C493.05,818.2 496.85,818.8 496.85,816 V811.4 H502.25 V816 C502.25,818.8 506.05,818.2 506.05,821 V826" fill="none" stroke="#111" stroke-width="2" stroke-linejoin="miter"/>
<path d="M493.05,887.8 V892.8 C493.05,895.6 496.85,895 496.85,897.8 V902.4 H502.25 V897.8 C502.25,895 506.05,895.6 506.05,892.8 V887.8" fill="none" stroke="#111" stroke-width="2" stroke-linejoin="miter"/>
<path d="M518,826 V821 C518,818.2 521.8,818.8 521.8,816 V811.4 H527.2 V816 C527.2,818.8 531,818.2 531,821 V826" fill="none" stroke="#111" stroke-width="2" stroke-linejoin="miter"/>
<path d="M518,887.8 V892.8 C518,895.6 521.8,895 521.8,897.8 V902.4 H527.2 V897.8 C527.2,895 531,895.6 531,892.8 V887.8" fill="none" stroke="#111" stroke-width="2" stroke-linejoin="miter"/>
<path d="M542.95,826 V821 C542.95,818.2 546.75,818.8 546.75,816 V811.4 H552.15 V816 C552.15,818.8 555.95,818.2 555.95,821 V826" fill="none" stroke="#111" stroke-width="2" stroke-linejoin="miter"/>
<path d="M542.95,887.8 V892.8 C542.95,895.6 546.75,895 546.75,897.8 V902.4 H552.15 V897.8 C552.15,895 555.95,895.6 555.95,892.8 V887.8" fill="none" stroke="#111" stroke-width="2" stroke-linejoin="miter"/>
<path d="M567.9,826 V821 C567.9,818.2 571.7,818.8 571.7,816 V811.4 H577.1 V816 C577.1,818.8 580.9,818.2 580.9,821 V826" fill="none" stroke="#111" stroke-width="2" stroke-linejoin="miter"/>
<path d="M567.9,887.8 V892.8 C567.9,895.6 571.7,895 571.7,897.8 V902.4 H577.1 V897.8 C577.1,895 580.9,895.6 580.9,892.8 V887.8" fill="none" stroke="#111" stroke-width="2" stroke-linejoin="miter"/>
<text x="425.95" y="804.3" text-anchor="middle" font-size="13.24" font-weight="normal" font-style="normal" fill="#222" stroke="#222" stroke-width="0.25">N</text>
<text x="425.35" y="920.2" text-anchor="middle" font-size="13.24" font-weight="normal" font-style="normal" fill="#222" stroke="#222" stroke-width="0.25">1</text>
<text x="571.9" y="920.2" font-size="13.24" font-weight="normal" font-style="normal" fill="#222" stroke="#222" stroke-width="0.25" textLength="18.8" lengthAdjust="spacingAndGlyphs">N/2</text>
<path d="M423.5,855.5 L576.38,855.5" fill="none" stroke="#222" stroke-width="1.1" stroke-linecap="butt" stroke-linejoin="miter"/>
<path d="M423.5,826 L423.5,855.5" fill="none" stroke="#222" stroke-width="1.1" stroke-linecap="butt" stroke-linejoin="miter"/>
<path d="M423.5,855.5 L423.5,865.8" fill="none" stroke="#222" stroke-width="1.1" stroke-linecap="butt" stroke-linejoin="miter"/>
<path d="M423.5,865.4 L426.3,866.57 L420.7,868.9 L426.3,871.23 L420.7,873.57 L426.3,875.9 L420.7,878.23 L423.5,879.4" fill="none" stroke="#222" stroke-width="1.1" stroke-linecap="butt" stroke-linejoin="miter"/>
<path d="M423.5,878.9 L423.5,887.8" fill="none" stroke="#222" stroke-width="1.1" stroke-linecap="butt" stroke-linejoin="miter"/>
<circle cx="423.5" cy="855.5" r="2.6" fill="#111"/>
<path d="M448.98,826 L448.98,834.5" fill="none" stroke="#222" stroke-width="1.1" stroke-linecap="butt" stroke-linejoin="miter"/>
<path d="M448.98,833.3 L451.78,834.51 L446.18,836.92 L451.78,839.34 L446.18,841.76 L451.78,844.17 L446.18,846.59 L448.98,847.8" fill="none" stroke="#222" stroke-width="1.1" stroke-linecap="butt" stroke-linejoin="miter"/>
<path d="M448.98,847.6 L448.98,855.5" fill="none" stroke="#222" stroke-width="1.1" stroke-linecap="butt" stroke-linejoin="miter"/>
<path d="M448.98,855.5 L448.98,865.8" fill="none" stroke="#222" stroke-width="1.1" stroke-linecap="butt" stroke-linejoin="miter"/>
<path d="M448.98,865.4 L451.78,866.57 L446.18,868.9 L451.78,871.23 L446.18,873.57 L451.78,875.9 L446.18,878.23 L448.98,879.4" fill="none" stroke="#222" stroke-width="1.1" stroke-linecap="butt" stroke-linejoin="miter"/>
<path d="M448.98,878.9 L448.98,887.8" fill="none" stroke="#222" stroke-width="1.1" stroke-linecap="butt" stroke-linejoin="miter"/>
<circle cx="448.98" cy="855.5" r="2.6" fill="#111"/>
<path d="M474.46,826 L474.46,834.5" fill="none" stroke="#222" stroke-width="1.1" stroke-linecap="butt" stroke-linejoin="miter"/>
<path d="M474.46,833.3 L477.26,834.51 L471.66,836.92 L477.26,839.34 L471.66,841.76 L477.26,844.17 L471.66,846.59 L474.46,847.8" fill="none" stroke="#222" stroke-width="1.1" stroke-linecap="butt" stroke-linejoin="miter"/>
<path d="M474.46,847.6 L474.46,855.5" fill="none" stroke="#222" stroke-width="1.1" stroke-linecap="butt" stroke-linejoin="miter"/>
<path d="M474.46,855.5 L474.46,865.8" fill="none" stroke="#222" stroke-width="1.1" stroke-linecap="butt" stroke-linejoin="miter"/>
<path d="M474.46,865.4 L477.26,866.57 L471.66,868.9 L477.26,871.23 L471.66,873.57 L477.26,875.9 L471.66,878.23 L474.46,879.4" fill="none" stroke="#222" stroke-width="1.1" stroke-linecap="butt" stroke-linejoin="miter"/>
<path d="M474.46,878.9 L474.46,887.8" fill="none" stroke="#222" stroke-width="1.1" stroke-linecap="butt" stroke-linejoin="miter"/>
<circle cx="474.46" cy="855.5" r="2.6" fill="#111"/>
<path d="M499.94,826 L499.94,834.5" fill="none" stroke="#222" stroke-width="1.1" stroke-linecap="butt" stroke-linejoin="miter"/>
<path d="M499.94,833.3 L502.74,834.51 L497.14,836.92 L502.74,839.34 L497.14,841.76 L502.74,844.17 L497.14,846.59 L499.94,847.8" fill="none" stroke="#222" stroke-width="1.1" stroke-linecap="butt" stroke-linejoin="miter"/>
<path d="M499.94,847.6 L499.94,855.5" fill="none" stroke="#222" stroke-width="1.1" stroke-linecap="butt" stroke-linejoin="miter"/>
<path d="M499.94,855.5 L499.94,865.8" fill="none" stroke="#222" stroke-width="1.1" stroke-linecap="butt" stroke-linejoin="miter"/>
<path d="M499.94,865.4 L502.74,866.57 L497.14,868.9 L502.74,871.23 L497.14,873.57 L502.74,875.9 L497.14,878.23 L499.94,879.4" fill="none" stroke="#222" stroke-width="1.1" stroke-linecap="butt" stroke-linejoin="miter"/>
<path d="M499.94,878.9 L499.94,887.8" fill="none" stroke="#222" stroke-width="1.1" stroke-linecap="butt" stroke-linejoin="miter"/>
<circle cx="499.94" cy="855.5" r="2.6" fill="#111"/>
<path d="M525.42,826 L525.42,834.5" fill="none" stroke="#222" stroke-width="1.1" stroke-linecap="butt" stroke-linejoin="miter"/>
<path d="M525.42,833.3 L528.22,834.51 L522.62,836.92 L528.22,839.34 L522.62,841.76 L528.22,844.17 L522.62,846.59 L525.42,847.8" fill="none" stroke="#222" stroke-width="1.1" stroke-linecap="butt" stroke-linejoin="miter"/>
<path d="M525.42,847.6 L525.42,855.5" fill="none" stroke="#222" stroke-width="1.1" stroke-linecap="butt" stroke-linejoin="miter"/>
<path d="M525.42,855.5 L525.42,865.8" fill="none" stroke="#222" stroke-width="1.1" stroke-linecap="butt" stroke-linejoin="miter"/>
<path d="M525.42,865.4 L528.22,866.57 L522.62,868.9 L528.22,871.23 L522.62,873.57 L528.22,875.9 L522.62,878.23 L525.42,879.4" fill="none" stroke="#222" stroke-width="1.1" stroke-linecap="butt" stroke-linejoin="miter"/>
<path d="M525.42,878.9 L525.42,887.8" fill="none" stroke="#222" stroke-width="1.1" stroke-linecap="butt" stroke-linejoin="miter"/>
<circle cx="525.42" cy="855.5" r="2.6" fill="#111"/>
<path d="M550.9,826 L550.9,834.5" fill="none" stroke="#222" stroke-width="1.1" stroke-linecap="butt" stroke-linejoin="miter"/>
<path d="M550.9,833.3 L553.7,834.51 L548.1,836.92 L553.7,839.34 L548.1,841.76 L553.7,844.17 L548.1,846.59 L550.9,847.8" fill="none" stroke="#222" stroke-width="1.1" stroke-linecap="butt" stroke-linejoin="miter"/>
<path d="M550.9,847.6 L550.9,855.5" fill="none" stroke="#222" stroke-width="1.1" stroke-linecap="butt" stroke-linejoin="miter"/>
<path d="M550.9,855.5 L550.9,865.8" fill="none" stroke="#222" stroke-width="1.1" stroke-linecap="butt" stroke-linejoin="miter"/>
<path d="M550.9,865.4 L553.7,866.57 L548.1,868.9 L553.7,871.23 L548.1,873.57 L553.7,875.9 L548.1,878.23 L550.9,879.4" fill="none" stroke="#222" stroke-width="1.1" stroke-linecap="butt" stroke-linejoin="miter"/>
<path d="M550.9,878.9 L550.9,887.8" fill="none" stroke="#222" stroke-width="1.1" stroke-linecap="butt" stroke-linejoin="miter"/>
<circle cx="550.9" cy="855.5" r="2.6" fill="#111"/>
<path d="M576.38,826 L576.38,834.5" fill="none" stroke="#222" stroke-width="1.1" stroke-linecap="butt" stroke-linejoin="miter"/>
<path d="M576.38,833.3 L579.18,834.51 L573.58,836.92 L579.18,839.34 L573.58,841.76 L579.18,844.17 L573.58,846.59 L576.38,847.8" fill="none" stroke="#222" stroke-width="1.1" stroke-linecap="butt" stroke-linejoin="miter"/>
<path d="M576.38,847.6 L576.38,855.5" fill="none" stroke="#222" stroke-width="1.1" stroke-linecap="butt" stroke-linejoin="miter"/>
<path d="M576.38,855.5 L576.38,865.8" fill="none" stroke="#222" stroke-width="1.1" stroke-linecap="butt" stroke-linejoin="miter"/>
<path d="M576.38,865.4 L579.18,866.57 L573.58,868.9 L579.18,871.23 L573.58,873.57 L579.18,875.9 L573.58,878.23 L576.38,879.4" fill="none" stroke="#222" stroke-width="1.1" stroke-linecap="butt" stroke-linejoin="miter"/>
<path d="M576.38,878.9 L576.38,887.8" fill="none" stroke="#222" stroke-width="1.1" stroke-linecap="butt" stroke-linejoin="miter"/>
<circle cx="576.38" cy="855.5" r="2.6" fill="#111"/>
<g transform="translate(672.2,786.8) scale(0.74,1) translate(-672.2,-786.8)"><text x="672.2" y="786.8" font-size="13.97" font-weight="bold" font-style="normal" fill="#222" stroke="#222" stroke-width="0.4" textLength="211.35" lengthAdjust="spacing">-5 Circuit - Dual Terminator</text></g>
<path d="M662.9,826 H849.9 V887.8 H662.9 V865.9 A11.700000000000001,11.700000000000001 0 0 0 662.9,847.9 Z" fill="none" stroke="#111" stroke-width="2.2" stroke-linejoin="miter"/>
<path d="M674.4,826 V821 C674.4,818.2 678.2,818.8 678.2,816 V811.4 H683.6 V816 C683.6,818.8 687.4,818.2 687.4,821 V826" fill="none" stroke="#111" stroke-width="2" stroke-linejoin="miter"/>
<path d="M674.4,887.8 V892.8 C674.4,895.6 678.2,895 678.2,897.8 V902.4 H683.6 V897.8 C683.6,895 687.4,895.6 687.4,892.8 V887.8" fill="none" stroke="#111" stroke-width="2" stroke-linejoin="miter"/>
<path d="M699.35,826 V821 C699.35,818.2 703.15,818.8 703.15,816 V811.4 H708.55 V816 C708.55,818.8 712.35,818.2 712.35,821 V826" fill="none" stroke="#111" stroke-width="2" stroke-linejoin="miter"/>
<path d="M699.35,887.8 V892.8 C699.35,895.6 703.15,895 703.15,897.8 V902.4 H708.55 V897.8 C708.55,895 712.35,895.6 712.35,892.8 V887.8" fill="none" stroke="#111" stroke-width="2" stroke-linejoin="miter"/>
<path d="M724.3,826 V821 C724.3,818.2 728.1,818.8 728.1,816 V811.4 H733.5 V816 C733.5,818.8 737.3,818.2 737.3,821 V826" fill="none" stroke="#111" stroke-width="2" stroke-linejoin="miter"/>
<path d="M724.3,887.8 V892.8 C724.3,895.6 728.1,895 728.1,897.8 V902.4 H733.5 V897.8 C733.5,895 737.3,895.6 737.3,892.8 V887.8" fill="none" stroke="#111" stroke-width="2" stroke-linejoin="miter"/>
<path d="M749.25,826 V821 C749.25,818.2 753.05,818.8 753.05,816 V811.4 H758.45 V816 C758.45,818.8 762.25,818.2 762.25,821 V826" fill="none" stroke="#111" stroke-width="2" stroke-linejoin="miter"/>
<path d="M749.25,887.8 V892.8 C749.25,895.6 753.05,895 753.05,897.8 V902.4 H758.45 V897.8 C758.45,895 762.25,895.6 762.25,892.8 V887.8" fill="none" stroke="#111" stroke-width="2" stroke-linejoin="miter"/>
<path d="M774.2,826 V821 C774.2,818.2 778,818.8 778,816 V811.4 H783.4 V816 C783.4,818.8 787.2,818.2 787.2,821 V826" fill="none" stroke="#111" stroke-width="2" stroke-linejoin="miter"/>
<path d="M774.2,887.8 V892.8 C774.2,895.6 778,895 778,897.8 V902.4 H783.4 V897.8 C783.4,895 787.2,895.6 787.2,892.8 V887.8" fill="none" stroke="#111" stroke-width="2" stroke-linejoin="miter"/>
<path d="M799.15,826 V821 C799.15,818.2 802.95,818.8 802.95,816 V811.4 H808.35 V816 C808.35,818.8 812.15,818.2 812.15,821 V826" fill="none" stroke="#111" stroke-width="2" stroke-linejoin="miter"/>
<path d="M799.15,887.8 V892.8 C799.15,895.6 802.95,895 802.95,897.8 V902.4 H808.35 V897.8 C808.35,895 812.15,895.6 812.15,892.8 V887.8" fill="none" stroke="#111" stroke-width="2" stroke-linejoin="miter"/>
<path d="M824.1,826 V821 C824.1,818.2 827.9,818.8 827.9,816 V811.4 H833.3 V816 C833.3,818.8 837.1,818.2 837.1,821 V826" fill="none" stroke="#111" stroke-width="2" stroke-linejoin="miter"/>
<path d="M824.1,887.8 V892.8 C824.1,895.6 827.9,895 827.9,897.8 V902.4 H833.3 V897.8 C833.3,895 837.1,895.6 837.1,892.8 V887.8" fill="none" stroke="#111" stroke-width="2" stroke-linejoin="miter"/>
<text x="682.15" y="804.3" text-anchor="middle" font-size="13.24" font-weight="normal" font-style="normal" fill="#222" stroke="#222" stroke-width="0.25">N</text>
<text x="681.55" y="920.2" text-anchor="middle" font-size="13.24" font-weight="normal" font-style="normal" fill="#222" stroke="#222" stroke-width="0.25">1</text>
<text x="828.1" y="920.2" font-size="13.24" font-weight="normal" font-style="normal" fill="#222" stroke="#222" stroke-width="0.25" textLength="18.8" lengthAdjust="spacingAndGlyphs">N/2</text>
<text x="666" y="847.2" font-size="10.29" font-weight="normal" font-style="normal" fill="#444" stroke="#444" stroke-width="0.25" textLength="10.5" lengthAdjust="spacingAndGlyphs">R1</text>
<text x="666" y="878.3" font-size="10.29" font-weight="normal" font-style="normal" fill="#444" stroke="#444" stroke-width="0.25" textLength="11" lengthAdjust="spacingAndGlyphs">R2</text>
<path d="M681,826 L681,854.6 L817.5,854.6" fill="none" stroke="#222" stroke-width="1.1" stroke-linecap="butt" stroke-linejoin="miter"/>
<path d="M681,860.9 L830.4,860.9" fill="none" stroke="#222" stroke-width="1.3" stroke-linecap="butt" stroke-linejoin="miter"/>
<path d="M681,860.9 L681,867.8" fill="none" stroke="#222" stroke-width="1.1" stroke-linecap="butt" stroke-linejoin="miter"/>
<path d="M681,867.8 L683,868.67 L679,870.42 L683,872.17 L679,873.92 L683,875.67 L679,877.42 L681,878.3" fill="none" stroke="#222" stroke-width="1.1" stroke-linecap="butt" stroke-linejoin="miter"/>
<path d="M681,878.3 L681,887.8" fill="none" stroke="#222" stroke-width="1.1" stroke-linecap="butt" stroke-linejoin="miter"/>
<circle cx="681" cy="882" r="1.9" fill="#111"/>
<path d="M705.9,831.4 L693,831.4 L693,836" fill="none" stroke="#222" stroke-width="1.1" stroke-linecap="butt" stroke-linejoin="miter"/>
<path d="M693,836 L695,836.89 L691,838.67 L695,840.46 L691,842.24 L695,844.03 L691,845.81 L693,846.7" fill="none" stroke="#222" stroke-width="1.1" stroke-linecap="butt" stroke-linejoin="miter"/>
<path d="M693,846.7 L693,854.6" fill="none" stroke="#222" stroke-width="1.1" stroke-linecap="butt" stroke-linejoin="miter"/>
<circle cx="693" cy="854.6" r="1.9" fill="#111"/>
<path d="M693,854.6 L693,867.8" fill="none" stroke="#222" stroke-width="1.1" stroke-linecap="butt" stroke-linejoin="miter"/>
<path d="M693,867.8 L695,868.67 L691,870.42 L695,872.17 L691,873.92 L695,875.67 L691,877.42 L693,878.3" fill="none" stroke="#222" stroke-width="1.1" stroke-linecap="butt" stroke-linejoin="miter"/>
<path d="M693,878.3 L693,882 L681,882" fill="none" stroke="#222" stroke-width="1.1" stroke-linecap="butt" stroke-linejoin="miter"/>
<path d="M705.9,826 L705.9,836" fill="none" stroke="#222" stroke-width="1.1" stroke-linecap="butt" stroke-linejoin="miter"/>
<path d="M705.9,836 L707.9,836.89 L703.9,838.67 L707.9,840.46 L703.9,842.24 L707.9,844.03 L703.9,845.81 L705.9,846.7" fill="none" stroke="#222" stroke-width="1.1" stroke-linecap="butt" stroke-linejoin="miter"/>
<path d="M705.9,846.7 L705.9,860.9" fill="none" stroke="#222" stroke-width="1.1" stroke-linecap="butt" stroke-linejoin="miter"/>
<circle cx="705.9" cy="831.4" r="1.9" fill="#111"/>
<path d="M705.9,860.9 L705.9,867.8" fill="none" stroke="#222" stroke-width="1.1" stroke-linecap="butt" stroke-linejoin="miter"/>
<path d="M705.9,867.8 L707.9,868.67 L703.9,870.42 L707.9,872.17 L703.9,873.92 L707.9,875.67 L703.9,877.42 L705.9,878.3" fill="none" stroke="#222" stroke-width="1.1" stroke-linecap="butt" stroke-linejoin="miter"/>
<path d="M705.9,878.3 L705.9,887.8" fill="none" stroke="#222" stroke-width="1.1" stroke-linecap="butt" stroke-linejoin="miter"/>
<circle cx="705.9" cy="882" r="1.9" fill="#111"/>
<circle cx="705.9" cy="860.9" r="1.9" fill="#111"/>
<path d="M730.8,831.4 L717.9,831.4 L717.9,836" fill="none" stroke="#222" stroke-width="1.1" stroke-linecap="butt" stroke-linejoin="miter"/>
<path d="M717.9,836 L719.9,836.89 L715.9,838.67 L719.9,840.46 L715.9,842.24 L719.9,844.03 L715.9,845.81 L717.9,846.7" fill="none" stroke="#222" stroke-width="1.1" stroke-linecap="butt" stroke-linejoin="miter"/>
<path d="M717.9,846.7 L717.9,854.6" fill="none" stroke="#222" stroke-width="1.1" stroke-linecap="butt" stroke-linejoin="miter"/>
<circle cx="717.9" cy="854.6" r="1.9" fill="#111"/>
<path d="M717.9,854.6 L717.9,867.8" fill="none" stroke="#222" stroke-width="1.1" stroke-linecap="butt" stroke-linejoin="miter"/>
<path d="M717.9,867.8 L719.9,868.67 L715.9,870.42 L719.9,872.17 L715.9,873.92 L719.9,875.67 L715.9,877.42 L717.9,878.3" fill="none" stroke="#222" stroke-width="1.1" stroke-linecap="butt" stroke-linejoin="miter"/>
<path d="M717.9,878.3 L717.9,882 L705.9,882" fill="none" stroke="#222" stroke-width="1.1" stroke-linecap="butt" stroke-linejoin="miter"/>
<path d="M730.8,826 L730.8,836" fill="none" stroke="#222" stroke-width="1.1" stroke-linecap="butt" stroke-linejoin="miter"/>
<path d="M730.8,836 L732.8,836.89 L728.8,838.67 L732.8,840.46 L728.8,842.24 L732.8,844.03 L728.8,845.81 L730.8,846.7" fill="none" stroke="#222" stroke-width="1.1" stroke-linecap="butt" stroke-linejoin="miter"/>
<path d="M730.8,846.7 L730.8,860.9" fill="none" stroke="#222" stroke-width="1.1" stroke-linecap="butt" stroke-linejoin="miter"/>
<circle cx="730.8" cy="831.4" r="1.9" fill="#111"/>
<path d="M730.8,860.9 L730.8,867.8" fill="none" stroke="#222" stroke-width="1.1" stroke-linecap="butt" stroke-linejoin="miter"/>
<path d="M730.8,867.8 L732.8,868.67 L728.8,870.42 L732.8,872.17 L728.8,873.92 L732.8,875.67 L728.8,877.42 L730.8,878.3" fill="none" stroke="#222" stroke-width="1.1" stroke-linecap="butt" stroke-linejoin="miter"/>
<path d="M730.8,878.3 L730.8,887.8" fill="none" stroke="#222" stroke-width="1.1" stroke-linecap="butt" stroke-linejoin="miter"/>
<circle cx="730.8" cy="882" r="1.9" fill="#111"/>
<circle cx="730.8" cy="860.9" r="1.9" fill="#111"/>
<path d="M755.7,831.4 L742.8,831.4 L742.8,836" fill="none" stroke="#222" stroke-width="1.1" stroke-linecap="butt" stroke-linejoin="miter"/>
<path d="M742.8,836 L744.8,836.89 L740.8,838.67 L744.8,840.46 L740.8,842.24 L744.8,844.03 L740.8,845.81 L742.8,846.7" fill="none" stroke="#222" stroke-width="1.1" stroke-linecap="butt" stroke-linejoin="miter"/>
<path d="M742.8,846.7 L742.8,854.6" fill="none" stroke="#222" stroke-width="1.1" stroke-linecap="butt" stroke-linejoin="miter"/>
<circle cx="742.8" cy="854.6" r="1.9" fill="#111"/>
<path d="M742.8,854.6 L742.8,867.8" fill="none" stroke="#222" stroke-width="1.1" stroke-linecap="butt" stroke-linejoin="miter"/>
<path d="M742.8,867.8 L744.8,868.67 L740.8,870.42 L744.8,872.17 L740.8,873.92 L744.8,875.67 L740.8,877.42 L742.8,878.3" fill="none" stroke="#222" stroke-width="1.1" stroke-linecap="butt" stroke-linejoin="miter"/>
<path d="M742.8,878.3 L742.8,882 L730.8,882" fill="none" stroke="#222" stroke-width="1.1" stroke-linecap="butt" stroke-linejoin="miter"/>
<path d="M755.7,826 L755.7,836" fill="none" stroke="#222" stroke-width="1.1" stroke-linecap="butt" stroke-linejoin="miter"/>
<path d="M755.7,836 L757.7,836.89 L753.7,838.67 L757.7,840.46 L753.7,842.24 L757.7,844.03 L753.7,845.81 L755.7,846.7" fill="none" stroke="#222" stroke-width="1.1" stroke-linecap="butt" stroke-linejoin="miter"/>
<path d="M755.7,846.7 L755.7,860.9" fill="none" stroke="#222" stroke-width="1.1" stroke-linecap="butt" stroke-linejoin="miter"/>
<circle cx="755.7" cy="831.4" r="1.9" fill="#111"/>
<path d="M755.7,860.9 L755.7,867.8" fill="none" stroke="#222" stroke-width="1.1" stroke-linecap="butt" stroke-linejoin="miter"/>
<path d="M755.7,867.8 L757.7,868.67 L753.7,870.42 L757.7,872.17 L753.7,873.92 L757.7,875.67 L753.7,877.42 L755.7,878.3" fill="none" stroke="#222" stroke-width="1.1" stroke-linecap="butt" stroke-linejoin="miter"/>
<path d="M755.7,878.3 L755.7,887.8" fill="none" stroke="#222" stroke-width="1.1" stroke-linecap="butt" stroke-linejoin="miter"/>
<circle cx="755.7" cy="882" r="1.9" fill="#111"/>
<circle cx="755.7" cy="860.9" r="1.9" fill="#111"/>
<path d="M780.6,831.4 L767.7,831.4 L767.7,836" fill="none" stroke="#222" stroke-width="1.1" stroke-linecap="butt" stroke-linejoin="miter"/>
<path d="M767.7,836 L769.7,836.89 L765.7,838.67 L769.7,840.46 L765.7,842.24 L769.7,844.03 L765.7,845.81 L767.7,846.7" fill="none" stroke="#222" stroke-width="1.1" stroke-linecap="butt" stroke-linejoin="miter"/>
<path d="M767.7,846.7 L767.7,854.6" fill="none" stroke="#222" stroke-width="1.1" stroke-linecap="butt" stroke-linejoin="miter"/>
<circle cx="767.7" cy="854.6" r="1.9" fill="#111"/>
<path d="M767.7,854.6 L767.7,867.8" fill="none" stroke="#222" stroke-width="1.1" stroke-linecap="butt" stroke-linejoin="miter"/>
<path d="M767.7,867.8 L769.7,868.67 L765.7,870.42 L769.7,872.17 L765.7,873.92 L769.7,875.67 L765.7,877.42 L767.7,878.3" fill="none" stroke="#222" stroke-width="1.1" stroke-linecap="butt" stroke-linejoin="miter"/>
<path d="M767.7,878.3 L767.7,882 L755.7,882" fill="none" stroke="#222" stroke-width="1.1" stroke-linecap="butt" stroke-linejoin="miter"/>
<path d="M780.6,826 L780.6,836" fill="none" stroke="#222" stroke-width="1.1" stroke-linecap="butt" stroke-linejoin="miter"/>
<path d="M780.6,836 L782.6,836.89 L778.6,838.67 L782.6,840.46 L778.6,842.24 L782.6,844.03 L778.6,845.81 L780.6,846.7" fill="none" stroke="#222" stroke-width="1.1" stroke-linecap="butt" stroke-linejoin="miter"/>
<path d="M780.6,846.7 L780.6,860.9" fill="none" stroke="#222" stroke-width="1.1" stroke-linecap="butt" stroke-linejoin="miter"/>
<circle cx="780.6" cy="831.4" r="1.9" fill="#111"/>
<path d="M780.6,860.9 L780.6,867.8" fill="none" stroke="#222" stroke-width="1.1" stroke-linecap="butt" stroke-linejoin="miter"/>
<path d="M780.6,867.8 L782.6,868.67 L778.6,870.42 L782.6,872.17 L778.6,873.92 L782.6,875.67 L778.6,877.42 L780.6,878.3" fill="none" stroke="#222" stroke-width="1.1" stroke-linecap="butt" stroke-linejoin="miter"/>
<path d="M780.6,878.3 L780.6,887.8" fill="none" stroke="#222" stroke-width="1.1" stroke-linecap="butt" stroke-linejoin="miter"/>
<circle cx="780.6" cy="882" r="1.9" fill="#111"/>
<circle cx="780.6" cy="860.9" r="1.9" fill="#111"/>
<path d="M805.5,831.4 L792.6,831.4 L792.6,836" fill="none" stroke="#222" stroke-width="1.1" stroke-linecap="butt" stroke-linejoin="miter"/>
<path d="M792.6,836 L794.6,836.89 L790.6,838.67 L794.6,840.46 L790.6,842.24 L794.6,844.03 L790.6,845.81 L792.6,846.7" fill="none" stroke="#222" stroke-width="1.1" stroke-linecap="butt" stroke-linejoin="miter"/>
<path d="M792.6,846.7 L792.6,854.6" fill="none" stroke="#222" stroke-width="1.1" stroke-linecap="butt" stroke-linejoin="miter"/>
<circle cx="792.6" cy="854.6" r="1.9" fill="#111"/>
<path d="M792.6,854.6 L792.6,867.8" fill="none" stroke="#222" stroke-width="1.1" stroke-linecap="butt" stroke-linejoin="miter"/>
<path d="M792.6,867.8 L794.6,868.67 L790.6,870.42 L794.6,872.17 L790.6,873.92 L794.6,875.67 L790.6,877.42 L792.6,878.3" fill="none" stroke="#222" stroke-width="1.1" stroke-linecap="butt" stroke-linejoin="miter"/>
<path d="M792.6,878.3 L792.6,882 L780.6,882" fill="none" stroke="#222" stroke-width="1.1" stroke-linecap="butt" stroke-linejoin="miter"/>
<path d="M805.5,826 L805.5,836" fill="none" stroke="#222" stroke-width="1.1" stroke-linecap="butt" stroke-linejoin="miter"/>
<path d="M805.5,836 L807.5,836.89 L803.5,838.67 L807.5,840.46 L803.5,842.24 L807.5,844.03 L803.5,845.81 L805.5,846.7" fill="none" stroke="#222" stroke-width="1.1" stroke-linecap="butt" stroke-linejoin="miter"/>
<path d="M805.5,846.7 L805.5,860.9" fill="none" stroke="#222" stroke-width="1.1" stroke-linecap="butt" stroke-linejoin="miter"/>
<circle cx="805.5" cy="831.4" r="1.9" fill="#111"/>
<path d="M805.5,860.9 L805.5,867.8" fill="none" stroke="#222" stroke-width="1.1" stroke-linecap="butt" stroke-linejoin="miter"/>
<path d="M805.5,867.8 L807.5,868.67 L803.5,870.42 L807.5,872.17 L803.5,873.92 L807.5,875.67 L803.5,877.42 L805.5,878.3" fill="none" stroke="#222" stroke-width="1.1" stroke-linecap="butt" stroke-linejoin="miter"/>
<path d="M805.5,878.3 L805.5,887.8" fill="none" stroke="#222" stroke-width="1.1" stroke-linecap="butt" stroke-linejoin="miter"/>
<circle cx="805.5" cy="882" r="1.9" fill="#111"/>
<circle cx="805.5" cy="860.9" r="1.9" fill="#111"/>
<path d="M830.4,831.4 L817.5,831.4 L817.5,836" fill="none" stroke="#222" stroke-width="1.1" stroke-linecap="butt" stroke-linejoin="miter"/>
<path d="M817.5,836 L819.5,836.89 L815.5,838.67 L819.5,840.46 L815.5,842.24 L819.5,844.03 L815.5,845.81 L817.5,846.7" fill="none" stroke="#222" stroke-width="1.1" stroke-linecap="butt" stroke-linejoin="miter"/>
<path d="M817.5,846.7 L817.5,854.6" fill="none" stroke="#222" stroke-width="1.1" stroke-linecap="butt" stroke-linejoin="miter"/>
<circle cx="817.5" cy="854.6" r="1.9" fill="#111"/>
<path d="M817.5,854.6 L817.5,867.8" fill="none" stroke="#222" stroke-width="1.1" stroke-linecap="butt" stroke-linejoin="miter"/>
<path d="M817.5,867.8 L819.5,868.67 L815.5,870.42 L819.5,872.17 L815.5,873.92 L819.5,875.67 L815.5,877.42 L817.5,878.3" fill="none" stroke="#222" stroke-width="1.1" stroke-linecap="butt" stroke-linejoin="miter"/>
<path d="M817.5,878.3 L817.5,882 L805.5,882" fill="none" stroke="#222" stroke-width="1.1" stroke-linecap="butt" stroke-linejoin="miter"/>
<path d="M830.4,826 L830.4,836" fill="none" stroke="#222" stroke-width="1.1" stroke-linecap="butt" stroke-linejoin="miter"/>
<path d="M830.4,836 L832.4,836.89 L828.4,838.67 L832.4,840.46 L828.4,842.24 L832.4,844.03 L828.4,845.81 L830.4,846.7" fill="none" stroke="#222" stroke-width="1.1" stroke-linecap="butt" stroke-linejoin="miter"/>
<path d="M830.4,846.7 L830.4,860.9" fill="none" stroke="#222" stroke-width="1.1" stroke-linecap="butt" stroke-linejoin="miter"/>
<circle cx="830.4" cy="831.4" r="1.9" fill="#111"/>
<path d="M830.4,860.9 L830.4,887.8" fill="none" stroke="#222" stroke-width="1.1" stroke-linecap="butt" stroke-linejoin="miter"/>
<circle cx="830.4" cy="860.9" r="1.9" fill="#111"/>
<g transform="translate(264.4,989.9) scale(0.74,1) translate(-264.4,-989.9)"><text x="264.4" y="989.9" font-size="13.97" font-weight="bold" font-style="normal" fill="#222" stroke="#222" stroke-width="0.4" textLength="151.62" lengthAdjust="spacing">-42 Circuit - 5.2V (V</text></g>
<text x="377.7" y="996.5" font-size="13.68" font-weight="bold" font-style="normal" fill="#222" stroke="#222" stroke-width="0.4" textLength="13.5" lengthAdjust="spacingAndGlyphs">EE</text>
<text x="393.95" y="989.9" text-anchor="middle" font-size="13" font-weight="bold" font-style="normal" fill="#222" stroke="#222" stroke-width="0.4">)</text>
<g transform="translate(399.5,989.9) scale(0.74,1) translate(-399.5,-989.9)"><text x="399.5" y="989.9" font-size="13.97" font-weight="bold" font-style="normal" fill="#222" stroke="#222" stroke-width="0.4" textLength="79.46" lengthAdjust="spacing">Pull-Down</text></g>
<text x="259.85" y="1004.6" text-anchor="middle" font-size="13.97" font-weight="normal" font-style="normal" fill="#222" stroke="#222" stroke-width="0.25">V</text>
<text x="263.7" y="1009.8" font-size="14.71" font-weight="normal" font-style="normal" fill="#222" stroke="#222" stroke-width="0.25" textLength="16.1" lengthAdjust="spacingAndGlyphs">CC</text>
<text x="287.3" y="1004.6" text-anchor="middle" font-size="13.97" font-weight="normal" font-style="normal" fill="#222" stroke="#222" stroke-width="0.25">V</text>
<text x="291.2" y="1009.8" font-size="14.71" font-weight="normal" font-style="normal" fill="#222" stroke="#222" stroke-width="0.25" textLength="14.3" lengthAdjust="spacingAndGlyphs">EE</text>
<text x="244.2" y="1025.3" font-size="13.68" font-weight="normal" font-style="normal" fill="#222" stroke="#222" stroke-width="0.25" textLength="12.2" lengthAdjust="spacingAndGlyphs">16</text>
<text x="250.65" y="1103.6" text-anchor="middle" font-size="13.24" font-weight="normal" font-style="normal" fill="#222" stroke="#222" stroke-width="0.25">1</text>
<text x="261.05" y="1118.5" text-anchor="middle" font-size="13.68" font-weight="normal" font-style="normal" fill="#222" stroke="#222" stroke-width="0.25">V</text>
<text x="265" y="1125.5" font-size="13.97" font-weight="normal" font-style="normal" fill="#222" stroke="#222" stroke-width="0.25" textLength="14" lengthAdjust="spacingAndGlyphs">CC</text>
<text x="442.9" y="1122" text-anchor="middle" font-size="13.68" font-weight="normal" font-style="normal" fill="#222" stroke="#222" stroke-width="0.25">V</text>
<text x="445.7" y="1129" font-size="13.97" font-weight="normal" font-style="normal" fill="#222" stroke="#222" stroke-width="0.25" textLength="14" lengthAdjust="spacingAndGlyphs">EE</text>
<text x="273.7" y="1140.4" font-size="13.68" font-weight="normal" font-style="normal" fill="#222" stroke="#222" stroke-width="0.25" textLength="160" lengthAdjust="spacingAndGlyphs">Custom Model: 898-42-R (R)</text>
<path d="M424.5,1142.6 L431,1142.6" fill="none" stroke="#222" stroke-width="1" stroke-linecap="butt" stroke-linejoin="miter"/>
<text x="327.1" y="1154.2" font-size="13.68" font-weight="normal" font-style="normal" fill="#222" stroke="#222" stroke-width="0.25" textLength="47.4" lengthAdjust="spacingAndGlyphs">R=510Ω</text>
<path d="M246.7,1029.6 H461.1 V1090.6 H246.7 V1070.1 A13.0,13.0 0 0 0 246.7,1050.1 Z" fill="none" stroke="#111" stroke-width="2.2" stroke-linejoin="miter"/>
<path d="M258.8,1029.6 V1024.6 C258.8,1021.8 262.6,1022.4 262.6,1019.6 V1015 H268 V1019.6 C268,1022.4 271.8,1021.8 271.8,1024.6 V1029.6" fill="none" stroke="#111" stroke-width="2" stroke-linejoin="miter"/>
<path d="M258.8,1090.6 V1095.6 C258.8,1098.4 262.6,1097.8 262.6,1100.6 V1105.2 H268 V1100.6 C268,1097.8 271.8,1098.4 271.8,1095.6 V1090.6" fill="none" stroke="#111" stroke-width="2" stroke-linejoin="miter"/>
<path d="M285.8,1029.6 V1024.6 C285.8,1021.8 289.6,1022.4 289.6,1019.6 V1015 H295 V1019.6 C295,1022.4 298.8,1021.8 298.8,1024.6 V1029.6" fill="none" stroke="#111" stroke-width="2" stroke-linejoin="miter"/>
<path d="M285.8,1090.6 V1095.6 C285.8,1098.4 289.6,1097.8 289.6,1100.6 V1105.2 H295 V1100.6 C295,1097.8 298.8,1098.4 298.8,1095.6 V1090.6" fill="none" stroke="#111" stroke-width="2" stroke-linejoin="miter"/>
<path d="M310.6,1029.6 V1024.6 C310.6,1021.8 314.4,1022.4 314.4,1019.6 V1015 H319.8 V1019.6 C319.8,1022.4 323.6,1021.8 323.6,1024.6 V1029.6" fill="none" stroke="#111" stroke-width="2" stroke-linejoin="miter"/>
<path d="M310.6,1090.6 V1095.6 C310.6,1098.4 314.4,1097.8 314.4,1100.6 V1105.2 H319.8 V1100.6 C319.8,1097.8 323.6,1098.4 323.6,1095.6 V1090.6" fill="none" stroke="#111" stroke-width="2" stroke-linejoin="miter"/>
<path d="M335.3,1029.6 V1024.6 C335.3,1021.8 339.1,1022.4 339.1,1019.6 V1015 H344.5 V1019.6 C344.5,1022.4 348.3,1021.8 348.3,1024.6 V1029.6" fill="none" stroke="#111" stroke-width="2" stroke-linejoin="miter"/>
<path d="M335.3,1090.6 V1095.6 C335.3,1098.4 339.1,1097.8 339.1,1100.6 V1105.2 H344.5 V1100.6 C344.5,1097.8 348.3,1098.4 348.3,1095.6 V1090.6" fill="none" stroke="#111" stroke-width="2" stroke-linejoin="miter"/>
<path d="M360.7,1029.6 V1024.6 C360.7,1021.8 364.5,1022.4 364.5,1019.6 V1015 H369.9 V1019.6 C369.9,1022.4 373.7,1021.8 373.7,1024.6 V1029.6" fill="none" stroke="#111" stroke-width="2" stroke-linejoin="miter"/>
<path d="M360.7,1090.6 V1095.6 C360.7,1098.4 364.5,1097.8 364.5,1100.6 V1105.2 H369.9 V1100.6 C369.9,1097.8 373.7,1098.4 373.7,1095.6 V1090.6" fill="none" stroke="#111" stroke-width="2" stroke-linejoin="miter"/>
<path d="M385.5,1029.6 V1024.6 C385.5,1021.8 389.3,1022.4 389.3,1019.6 V1015 H394.7 V1019.6 C394.7,1022.4 398.5,1021.8 398.5,1024.6 V1029.6" fill="none" stroke="#111" stroke-width="2" stroke-linejoin="miter"/>
<path d="M385.5,1090.6 V1095.6 C385.5,1098.4 389.3,1097.8 389.3,1100.6 V1105.2 H394.7 V1100.6 C394.7,1097.8 398.5,1098.4 398.5,1095.6 V1090.6" fill="none" stroke="#111" stroke-width="2" stroke-linejoin="miter"/>
<path d="M410.2,1029.6 V1024.6 C410.2,1021.8 414,1022.4 414,1019.6 V1015 H419.4 V1019.6 C419.4,1022.4 423.2,1021.8 423.2,1024.6 V1029.6" fill="none" stroke="#111" stroke-width="2" stroke-linejoin="miter"/>
<path d="M410.2,1090.6 V1095.6 C410.2,1098.4 414,1097.8 414,1100.6 V1105.2 H419.4 V1100.6 C419.4,1097.8 423.2,1098.4 423.2,1095.6 V1090.6" fill="none" stroke="#111" stroke-width="2" stroke-linejoin="miter"/>
<path d="M435.5,1029.6 V1024.6 C435.5,1021.8 439.3,1022.4 439.3,1019.6 V1015 H444.7 V1019.6 C444.7,1022.4 448.5,1021.8 448.5,1024.6 V1029.6" fill="none" stroke="#111" stroke-width="2" stroke-linejoin="miter"/>
<path d="M435.5,1090.6 V1095.6 C435.5,1098.4 439.3,1097.8 439.3,1100.6 V1105.2 H444.7 V1100.6 C444.7,1097.8 448.5,1098.4 448.5,1095.6 V1090.6" fill="none" stroke="#111" stroke-width="2" stroke-linejoin="miter"/>
<path d="M263.8,1058.9 L274,1058.9" fill="none" stroke="#222" stroke-width="1.1" stroke-linecap="butt" stroke-linejoin="miter"/>
<path d="M282,1058.9 L443.5,1058.9" fill="none" stroke="#222" stroke-width="1.1" stroke-linecap="butt" stroke-linejoin="miter"/>
<path d="M274.8,1051.8 L274.8,1065.6" fill="none" stroke="#222" stroke-width="1.5" stroke-linecap="butt" stroke-linejoin="miter"/>
<path d="M281,1051.8 L281,1065.6" fill="none" stroke="#222" stroke-width="1.5" stroke-linecap="butt" stroke-linejoin="miter"/>
<text x="279.25" y="1081.7" text-anchor="middle" font-size="13.5" font-weight="normal" font-style="normal" fill="#222" stroke="#222" stroke-width="0.25">c</text>
<path d="M263.8,1029.6 L263.8,1090.6" fill="none" stroke="#222" stroke-width="1.1" stroke-linecap="butt" stroke-linejoin="miter"/>
<circle cx="263.8" cy="1058.9" r="2.7" fill="#111"/>
<circle cx="292.2" cy="1058.9" r="2.7" fill="#111"/>
<path d="M292.2,1029.6 L292.2,1058.9 L292.2,1068.7" fill="none" stroke="#222" stroke-width="1.1" stroke-linecap="butt" stroke-linejoin="miter"/>
<path d="M292.2,1058.9 L292.2,1068.7" fill="none" stroke="#222" stroke-width="1.1" stroke-linecap="butt" stroke-linejoin="miter"/>
<path d="M292.2,1068.7 L295.3,1069.86 L289.1,1072.17 L295.3,1074.49 L289.1,1076.81 L295.3,1079.12 L289.1,1081.44 L292.2,1082.6" fill="none" stroke="#222" stroke-width="1.1" stroke-linecap="butt" stroke-linejoin="miter"/>
<path d="M292.2,1082.6 L292.2,1090.6" fill="none" stroke="#222" stroke-width="1.1" stroke-linecap="butt" stroke-linejoin="miter"/>
<text x="300.75" y="1081.5" text-anchor="middle" font-size="13.24" font-weight="normal" font-style="normal" fill="#222" stroke="#222" stroke-width="0.25">R</text>
<circle cx="317.4" cy="1058.9" r="2.7" fill="#111"/>
<path d="M317.4,1029.6 L317.4,1036.5" fill="none" stroke="#222" stroke-width="1.1" stroke-linecap="butt" stroke-linejoin="miter"/>
<path d="M317.4,1036.5 L320.5,1037.7 L314.3,1040.1 L320.5,1042.5 L314.3,1044.9 L320.5,1047.3 L314.3,1049.7 L317.4,1050.9" fill="none" stroke="#222" stroke-width="1.1" stroke-linecap="butt" stroke-linejoin="miter"/>
<path d="M317.4,1050.9 L317.4,1058.9" fill="none" stroke="#222" stroke-width="1.1" stroke-linecap="butt" stroke-linejoin="miter"/>
<text x="325.95" y="1049.2" text-anchor="middle" font-size="13.24" font-weight="normal" font-style="normal" fill="#222" stroke="#222" stroke-width="0.25">R</text>
<path d="M317.4,1058.9 L317.4,1068.7" fill="none" stroke="#222" stroke-width="1.1" stroke-linecap="butt" stroke-linejoin="miter"/>
<path d="M317.4,1068.7 L320.5,1069.86 L314.3,1072.17 L320.5,1074.49 L314.3,1076.81 L320.5,1079.12 L314.3,1081.44 L317.4,1082.6" fill="none" stroke="#222" stroke-width="1.1" stroke-linecap="butt" stroke-linejoin="miter"/>
<path d="M317.4,1082.6 L317.4,1090.6" fill="none" stroke="#222" stroke-width="1.1" stroke-linecap="butt" stroke-linejoin="miter"/>
<text x="325.95" y="1081.5" text-anchor="middle" font-size="13.24" font-weight="normal" font-style="normal" fill="#222" stroke="#222" stroke-width="0.25">R</text>
<circle cx="342" cy="1058.9" r="2.7" fill="#111"/>
<path d="M342,1029.6 L342,1036.5" fill="none" stroke="#222" stroke-width="1.1" stroke-linecap="butt" stroke-linejoin="miter"/>
<path d="M342,1036.5 L345.1,1037.7 L338.9,1040.1 L345.1,1042.5 L338.9,1044.9 L345.1,1047.3 L338.9,1049.7 L342,1050.9" fill="none" stroke="#222" stroke-width="1.1" stroke-linecap="butt" stroke-linejoin="miter"/>
<path d="M342,1050.9 L342,1058.9" fill="none" stroke="#222" stroke-width="1.1" stroke-linecap="butt" stroke-linejoin="miter"/>
<text x="350.55" y="1049.2" text-anchor="middle" font-size="13.24" font-weight="normal" font-style="normal" fill="#222" stroke="#222" stroke-width="0.25">R</text>
<path d="M342,1058.9 L342,1068.7" fill="none" stroke="#222" stroke-width="1.1" stroke-linecap="butt" stroke-linejoin="miter"/>
<path d="M342,1068.7 L345.1,1069.86 L338.9,1072.17 L345.1,1074.49 L338.9,1076.81 L345.1,1079.12 L338.9,1081.44 L342,1082.6" fill="none" stroke="#222" stroke-width="1.1" stroke-linecap="butt" stroke-linejoin="miter"/>
<path d="M342,1082.6 L342,1090.6" fill="none" stroke="#222" stroke-width="1.1" stroke-linecap="butt" stroke-linejoin="miter"/>
<text x="350.55" y="1081.5" text-anchor="middle" font-size="13.24" font-weight="normal" font-style="normal" fill="#222" stroke="#222" stroke-width="0.25">R</text>
<circle cx="368" cy="1058.9" r="2.7" fill="#111"/>
<path d="M368,1029.6 L368,1036.5" fill="none" stroke="#222" stroke-width="1.1" stroke-linecap="butt" stroke-linejoin="miter"/>
<path d="M368,1036.5 L371.1,1037.7 L364.9,1040.1 L371.1,1042.5 L364.9,1044.9 L371.1,1047.3 L364.9,1049.7 L368,1050.9" fill="none" stroke="#222" stroke-width="1.1" stroke-linecap="butt" stroke-linejoin="miter"/>
<path d="M368,1050.9 L368,1058.9" fill="none" stroke="#222" stroke-width="1.1" stroke-linecap="butt" stroke-linejoin="miter"/>
<text x="376.55" y="1049.2" text-anchor="middle" font-size="13.24" font-weight="normal" font-style="normal" fill="#222" stroke="#222" stroke-width="0.25">R</text>
<path d="M368,1058.9 L368,1068.7" fill="none" stroke="#222" stroke-width="1.1" stroke-linecap="butt" stroke-linejoin="miter"/>
<path d="M368,1068.7 L371.1,1069.86 L364.9,1072.17 L371.1,1074.49 L364.9,1076.81 L371.1,1079.12 L364.9,1081.44 L368,1082.6" fill="none" stroke="#222" stroke-width="1.1" stroke-linecap="butt" stroke-linejoin="miter"/>
<path d="M368,1082.6 L368,1090.6" fill="none" stroke="#222" stroke-width="1.1" stroke-linecap="butt" stroke-linejoin="miter"/>
<text x="376.55" y="1081.5" text-anchor="middle" font-size="13.24" font-weight="normal" font-style="normal" fill="#222" stroke="#222" stroke-width="0.25">R</text>
<circle cx="391.5" cy="1058.9" r="2.7" fill="#111"/>
<path d="M391.5,1029.6 L391.5,1036.5" fill="none" stroke="#222" stroke-width="1.1" stroke-linecap="butt" stroke-linejoin="miter"/>
<path d="M391.5,1036.5 L394.6,1037.7 L388.4,1040.1 L394.6,1042.5 L388.4,1044.9 L394.6,1047.3 L388.4,1049.7 L391.5,1050.9" fill="none" stroke="#222" stroke-width="1.1" stroke-linecap="butt" stroke-linejoin="miter"/>
<path d="M391.5,1050.9 L391.5,1058.9" fill="none" stroke="#222" stroke-width="1.1" stroke-linecap="butt" stroke-linejoin="miter"/>
<text x="400.05" y="1049.2" text-anchor="middle" font-size="13.24" font-weight="normal" font-style="normal" fill="#222" stroke="#222" stroke-width="0.25">R</text>
<path d="M391.5,1058.9 L391.5,1068.7" fill="none" stroke="#222" stroke-width="1.1" stroke-linecap="butt" stroke-linejoin="miter"/>
<path d="M391.5,1068.7 L394.6,1069.86 L388.4,1072.17 L394.6,1074.49 L388.4,1076.81 L394.6,1079.12 L388.4,1081.44 L391.5,1082.6" fill="none" stroke="#222" stroke-width="1.1" stroke-linecap="butt" stroke-linejoin="miter"/>
<path d="M391.5,1082.6 L391.5,1090.6" fill="none" stroke="#222" stroke-width="1.1" stroke-linecap="butt" stroke-linejoin="miter"/>
<text x="400.05" y="1081.5" text-anchor="middle" font-size="13.24" font-weight="normal" font-style="normal" fill="#222" stroke="#222" stroke-width="0.25">R</text>
<circle cx="418" cy="1058.9" r="2.7" fill="#111"/>
<path d="M418,1029.6 L418,1036.5" fill="none" stroke="#222" stroke-width="1.1" stroke-linecap="butt" stroke-linejoin="miter"/>
<path d="M418,1036.5 L421.1,1037.7 L414.9,1040.1 L421.1,1042.5 L414.9,1044.9 L421.1,1047.3 L414.9,1049.7 L418,1050.9" fill="none" stroke="#222" stroke-width="1.1" stroke-linecap="butt" stroke-linejoin="miter"/>
<path d="M418,1050.9 L418,1058.9" fill="none" stroke="#222" stroke-width="1.1" stroke-linecap="butt" stroke-linejoin="miter"/>
<text x="426.55" y="1049.2" text-anchor="middle" font-size="13.24" font-weight="normal" font-style="normal" fill="#222" stroke="#222" stroke-width="0.25">R</text>
<path d="M418,1058.9 L418,1068.7" fill="none" stroke="#222" stroke-width="1.1" stroke-linecap="butt" stroke-linejoin="miter"/>
<path d="M418,1068.7 L421.1,1069.86 L414.9,1072.17 L421.1,1074.49 L414.9,1076.81 L421.1,1079.12 L414.9,1081.44 L418,1082.6" fill="none" stroke="#222" stroke-width="1.1" stroke-linecap="butt" stroke-linejoin="miter"/>
<path d="M418,1082.6 L418,1090.6" fill="none" stroke="#222" stroke-width="1.1" stroke-linecap="butt" stroke-linejoin="miter"/>
<text x="426.55" y="1081.5" text-anchor="middle" font-size="13.24" font-weight="normal" font-style="normal" fill="#222" stroke="#222" stroke-width="0.25">R</text>
<circle cx="443.5" cy="1058.9" r="2.7" fill="#111"/>
<path d="M443.5,1029.6 L443.5,1036.5" fill="none" stroke="#222" stroke-width="1.1" stroke-linecap="butt" stroke-linejoin="miter"/>
<path d="M443.5,1036.5 L446.6,1037.7 L440.4,1040.1 L446.6,1042.5 L440.4,1044.9 L446.6,1047.3 L440.4,1049.7 L443.5,1050.9" fill="none" stroke="#222" stroke-width="1.1" stroke-linecap="butt" stroke-linejoin="miter"/>
<path d="M443.5,1050.9 L443.5,1058.9" fill="none" stroke="#222" stroke-width="1.1" stroke-linecap="butt" stroke-linejoin="miter"/>
<text x="452.05" y="1049.2" text-anchor="middle" font-size="13.24" font-weight="normal" font-style="normal" fill="#222" stroke="#222" stroke-width="0.25">R</text>
<path d="M443.5,1058.9 L443.5,1090.6" fill="none" stroke="#222" stroke-width="1.1" stroke-linecap="butt" stroke-linejoin="miter"/>
<g transform="translate(563.4,989.9) scale(0.74,1) translate(-563.4,-989.9)"><text x="563.4" y="989.9" font-size="13.97" font-weight="bold" font-style="normal" fill="#222" stroke="#222" stroke-width="0.4" textLength="261.89" lengthAdjust="spacing">-45 Circuit - TTL to ECL Translator</text></g>
<text x="559.45" y="1004.5" text-anchor="middle" font-size="13.97" font-weight="normal" font-style="normal" fill="#222" stroke="#222" stroke-width="0.25">V</text>
<text x="562.2" y="1011" font-size="14.71" font-weight="normal" font-style="normal" fill="#222" stroke="#222" stroke-width="0.25" textLength="15.2" lengthAdjust="spacingAndGlyphs">CC</text>
<text x="623.3" y="1006.8" font-size="13.68" font-weight="normal" font-style="normal" fill="#222" stroke="#222" stroke-width="0.25" textLength="59" lengthAdjust="spacingAndGlyphs">TTL Inputs</text>
<path d="M592.2,1010.3 L592.2,1002.2 L619.8,1002.2" fill="none" stroke="#222" stroke-width="1.1" stroke-linecap="butt" stroke-linejoin="miter"/>
<path d="M685.5,1002.2 L715.4,1002.2 L715.4,1010.3" fill="none" stroke="#222" stroke-width="1.1" stroke-linecap="butt" stroke-linejoin="miter"/>
<text x="539.2" y="1025.3" font-size="13.68" font-weight="normal" font-style="normal" fill="#222" stroke="#222" stroke-width="0.25" textLength="13" lengthAdjust="spacingAndGlyphs">16</text>
<text x="549.15" y="1103.6" text-anchor="middle" font-size="13.24" font-weight="normal" font-style="normal" fill="#222" stroke="#222" stroke-width="0.25">1</text>
<text x="559.45" y="1119.7" text-anchor="middle" font-size="13.68" font-weight="normal" font-style="normal" fill="#222" stroke="#222" stroke-width="0.25">V</text>
<text x="562.2" y="1126.1" font-size="13.97" font-weight="normal" font-style="normal" fill="#222" stroke="#222" stroke-width="0.25" textLength="15.2" lengthAdjust="spacingAndGlyphs">CC</text>
<path d="M592.2,1109.3 L592.2,1117.3 L606,1117.3" fill="none" stroke="#222" stroke-width="1.1" stroke-linecap="butt" stroke-linejoin="miter"/>
<text x="609.5" y="1119.7" font-size="13.68" font-weight="normal" font-style="normal" fill="#222" stroke="#222" stroke-width="0.25" textLength="85.5" lengthAdjust="spacingAndGlyphs">Outputs To ECL</text>
<path d="M699,1117.3 L715.4,1117.3 L715.4,1109.3" fill="none" stroke="#222" stroke-width="1.1" stroke-linecap="butt" stroke-linejoin="miter"/>
<text x="742.6" y="1122" text-anchor="middle" font-size="13.68" font-weight="normal" font-style="normal" fill="#222" stroke="#222" stroke-width="0.25">V</text>
<text x="745.3" y="1129" font-size="13.97" font-weight="normal" font-style="normal" fill="#222" stroke="#222" stroke-width="0.25" textLength="12.9" lengthAdjust="spacingAndGlyphs">EE</text>
<text x="589.9" y="1140.4" font-size="13.68" font-weight="normal" font-style="normal" fill="#222" stroke="#222" stroke-width="0.25" textLength="125.7" lengthAdjust="spacingAndGlyphs">Custom Model: 898-45</text>
<text x="565.3" y="1154.5" text-anchor="middle" font-size="13.68" font-weight="normal" font-style="normal" fill="#222" stroke="#222" stroke-width="0.25">R</text>
<text x="572" y="1159" text-anchor="middle" font-size="11.76" font-weight="normal" font-style="normal" fill="#222" stroke="#222" stroke-width="0.25">1</text>
<text x="574.5" y="1154.5" font-size="13.68" font-weight="normal" font-style="normal" fill="#222" stroke="#222" stroke-width="0.25" textLength="38.5" lengthAdjust="spacingAndGlyphs">=180Ω</text>
<text x="626.2" y="1154.5" text-anchor="middle" font-size="13.68" font-weight="normal" font-style="normal" fill="#222" stroke="#222" stroke-width="0.25">R</text>
<text x="633" y="1159" text-anchor="middle" font-size="11.76" font-weight="normal" font-style="normal" fill="#222" stroke="#222" stroke-width="0.25">2</text>
<text x="635.6" y="1154.5" font-size="13.68" font-weight="normal" font-style="normal" fill="#222" stroke="#222" stroke-width="0.25" textLength="38.6" lengthAdjust="spacingAndGlyphs">=270Ω</text>
<text x="687.2" y="1154.5" text-anchor="middle" font-size="13.68" font-weight="normal" font-style="normal" fill="#222" stroke="#222" stroke-width="0.25">R</text>
<text x="694" y="1159" text-anchor="middle" font-size="11.76" font-weight="normal" font-style="normal" fill="#222" stroke="#222" stroke-width="0.25">3</text>
<text x="696.6" y="1154.5" font-size="13.68" font-weight="normal" font-style="normal" fill="#222" stroke="#222" stroke-width="0.25" textLength="40.8" lengthAdjust="spacingAndGlyphs">=820Ω</text>
<path d="M545.2,1029.6 H759.2 V1090.6 H545.2 V1070.1 A13.0,13.0 0 0 0 545.2,1050.1 Z" fill="none" stroke="#111" stroke-width="2.2" stroke-linejoin="miter"/>
<path d="M557,1029.6 V1024.6 C557,1021.8 560.8,1022.4 560.8,1019.6 V1015 H566.2 V1019.6 C566.2,1022.4 570,1021.8 570,1024.6 V1029.6" fill="none" stroke="#111" stroke-width="2" stroke-linejoin="miter"/>
<path d="M557,1090.6 V1095.6 C557,1098.4 560.8,1097.8 560.8,1100.6 V1105.2 H566.2 V1100.6 C566.2,1097.8 570,1098.4 570,1095.6 V1090.6" fill="none" stroke="#111" stroke-width="2" stroke-linejoin="miter"/>
<path d="M584.1,1029.6 V1024.6 C584.1,1021.8 587.9,1022.4 587.9,1019.6 V1015 H593.3 V1019.6 C593.3,1022.4 597.1,1021.8 597.1,1024.6 V1029.6" fill="none" stroke="#111" stroke-width="2" stroke-linejoin="miter"/>
<path d="M584.1,1090.6 V1095.6 C584.1,1098.4 587.9,1097.8 587.9,1100.6 V1105.2 H593.3 V1100.6 C593.3,1097.8 597.1,1098.4 597.1,1095.6 V1090.6" fill="none" stroke="#111" stroke-width="2" stroke-linejoin="miter"/>
<path d="M608.9,1029.6 V1024.6 C608.9,1021.8 612.7,1022.4 612.7,1019.6 V1015 H618.1 V1019.6 C618.1,1022.4 621.9,1021.8 621.9,1024.6 V1029.6" fill="none" stroke="#111" stroke-width="2" stroke-linejoin="miter"/>
<path d="M608.9,1090.6 V1095.6 C608.9,1098.4 612.7,1097.8 612.7,1100.6 V1105.2 H618.1 V1100.6 C618.1,1097.8 621.9,1098.4 621.9,1095.6 V1090.6" fill="none" stroke="#111" stroke-width="2" stroke-linejoin="miter"/>
<path d="M634.2,1029.6 V1024.6 C634.2,1021.8 638,1022.4 638,1019.6 V1015 H643.4 V1019.6 C643.4,1022.4 647.2,1021.8 647.2,1024.6 V1029.6" fill="none" stroke="#111" stroke-width="2" stroke-linejoin="miter"/>
<path d="M634.2,1090.6 V1095.6 C634.2,1098.4 638,1097.8 638,1100.6 V1105.2 H643.4 V1100.6 C643.4,1097.8 647.2,1098.4 647.2,1095.6 V1090.6" fill="none" stroke="#111" stroke-width="2" stroke-linejoin="miter"/>
<path d="M659,1029.6 V1024.6 C659,1021.8 662.8,1022.4 662.8,1019.6 V1015 H668.2 V1019.6 C668.2,1022.4 672,1021.8 672,1024.6 V1029.6" fill="none" stroke="#111" stroke-width="2" stroke-linejoin="miter"/>
<path d="M659,1090.6 V1095.6 C659,1098.4 662.8,1097.8 662.8,1100.6 V1105.2 H668.2 V1100.6 C668.2,1097.8 672,1098.4 672,1095.6 V1090.6" fill="none" stroke="#111" stroke-width="2" stroke-linejoin="miter"/>
<path d="M683.7,1029.6 V1024.6 C683.7,1021.8 687.5,1022.4 687.5,1019.6 V1015 H692.9 V1019.6 C692.9,1022.4 696.7,1021.8 696.7,1024.6 V1029.6" fill="none" stroke="#111" stroke-width="2" stroke-linejoin="miter"/>
<path d="M683.7,1090.6 V1095.6 C683.7,1098.4 687.5,1097.8 687.5,1100.6 V1105.2 H692.9 V1100.6 C692.9,1097.8 696.7,1098.4 696.7,1095.6 V1090.6" fill="none" stroke="#111" stroke-width="2" stroke-linejoin="miter"/>
<path d="M708.5,1029.6 V1024.6 C708.5,1021.8 712.3,1022.4 712.3,1019.6 V1015 H717.7 V1019.6 C717.7,1022.4 721.5,1021.8 721.5,1024.6 V1029.6" fill="none" stroke="#111" stroke-width="2" stroke-linejoin="miter"/>
<path d="M708.5,1090.6 V1095.6 C708.5,1098.4 712.3,1097.8 712.3,1100.6 V1105.2 H717.7 V1100.6 C717.7,1097.8 721.5,1098.4 721.5,1095.6 V1090.6" fill="none" stroke="#111" stroke-width="2" stroke-linejoin="miter"/>
<path d="M733.8,1029.6 V1024.6 C733.8,1021.8 737.6,1022.4 737.6,1019.6 V1015 H743 V1019.6 C743,1022.4 746.8,1021.8 746.8,1024.6 V1029.6" fill="none" stroke="#111" stroke-width="2" stroke-linejoin="miter"/>
<path d="M733.8,1090.6 V1095.6 C733.8,1098.4 737.6,1097.8 737.6,1100.6 V1105.2 H743 V1100.6 C743,1097.8 746.8,1098.4 746.8,1095.6 V1090.6" fill="none" stroke="#111" stroke-width="2" stroke-linejoin="miter"/>
<text x="571.4" y="1049.5" text-anchor="middle" font-size="10" font-weight="normal" font-style="normal" fill="#444" stroke="#444" stroke-width="0.25">R</text>
<text x="577.65" y="1052" text-anchor="middle" font-size="8.09" font-weight="normal" font-style="normal" fill="#444" stroke="#444" stroke-width="0.25">1</text>
<text x="571.4" y="1062.1" text-anchor="middle" font-size="10" font-weight="normal" font-style="normal" fill="#444" stroke="#444" stroke-width="0.25">R</text>
<text x="577.65" y="1064.6" text-anchor="middle" font-size="8.09" font-weight="normal" font-style="normal" fill="#444" stroke="#444" stroke-width="0.25">2</text>
<text x="571.4" y="1075.9" text-anchor="middle" font-size="10" font-weight="normal" font-style="normal" fill="#444" stroke="#444" stroke-width="0.25">R</text>
<text x="577.65" y="1078.4" text-anchor="middle" font-size="8.09" font-weight="normal" font-style="normal" fill="#444" stroke="#444" stroke-width="0.25">3</text>
<text x="732.9" y="1049.7" font-size="10" font-weight="normal" font-style="normal" fill="#444" stroke="#444" stroke-width="0.25" textLength="21" lengthAdjust="spacingAndGlyphs">180Ω</text>
<text x="732.9" y="1061.8" font-size="10" font-weight="normal" font-style="normal" fill="#444" stroke="#444" stroke-width="0.25" textLength="21" lengthAdjust="spacingAndGlyphs">270Ω</text>
<text x="732.9" y="1076.2" font-size="10" font-weight="normal" font-style="normal" fill="#444" stroke="#444" stroke-width="0.25" textLength="21" lengthAdjust="spacingAndGlyphs">820Ω</text>
<path d="M561.9,1029.6 L561.9,1090.6" fill="none" stroke="#444" stroke-width="1.1" stroke-linecap="butt" stroke-linejoin="miter"/>
<path d="M561.9,1037.1 L712.5,1037.1" fill="none" stroke="#222" stroke-width="1.1" stroke-linecap="butt" stroke-linejoin="miter"/>
<path d="M588.1,1082.6 L738.7,1082.6 L738.7,1090.6" fill="none" stroke="#222" stroke-width="1.1" stroke-linecap="butt" stroke-linejoin="miter"/>
<circle cx="588.1" cy="1037.1" r="1.8" fill="#111"/>
<circle cx="588.1" cy="1051.5" r="1.8" fill="#111"/>
<circle cx="588.1" cy="1067.6" r="1.8" fill="#111"/>
<circle cx="588.1" cy="1082.6" r="1.5" fill="#111"/>
<path d="M588.1,1038.5 L589.9,1039.25 L586.3,1040.75 L589.9,1042.25 L586.3,1043.75 L589.9,1045.25 L586.3,1046.75 L589.9,1048.25 L586.3,1049.75 L588.1,1050.5" fill="none" stroke="#222" stroke-width="1" stroke-linecap="butt" stroke-linejoin="miter"/>
<path d="M588.1,1052.5 L589.9,1053.38 L586.3,1055.12 L589.9,1056.88 L586.3,1058.62 L589.9,1060.38 L586.3,1062.12 L589.9,1063.88 L586.3,1065.62 L588.1,1066.5" fill="none" stroke="#222" stroke-width="1" stroke-linecap="butt" stroke-linejoin="miter"/>
<path d="M588.1,1068.5 L589.9,1069.31 L586.3,1070.94 L589.9,1072.56 L586.3,1074.19 L589.9,1075.81 L586.3,1077.44 L589.9,1079.06 L586.3,1080.69 L588.1,1081.5" fill="none" stroke="#222" stroke-width="1" stroke-linecap="butt" stroke-linejoin="miter"/>
<path d="M589.1,1029.6 L589.1,1033.6 L596.4,1033.6 L596.4,1068.2 L588.1,1068.2" fill="none" stroke="#222" stroke-width="1.1" stroke-linecap="butt" stroke-linejoin="miter"/>
<path d="M588.1,1051.5 L582.6,1051.5 L582.6,1086 L588.6,1086 L588.6,1090.6" fill="none" stroke="#222" stroke-width="1.1" stroke-linecap="butt" stroke-linejoin="miter"/>
<circle cx="609.1" cy="1037.1" r="1.8" fill="#111"/>
<circle cx="609.1" cy="1051.5" r="1.8" fill="#111"/>
<circle cx="609.1" cy="1067.6" r="1.8" fill="#111"/>
<circle cx="609.1" cy="1082.6" r="1.5" fill="#111"/>
<path d="M609.1,1038.5 L610.9,1039.25 L607.3,1040.75 L610.9,1042.25 L607.3,1043.75 L610.9,1045.25 L607.3,1046.75 L610.9,1048.25 L607.3,1049.75 L609.1,1050.5" fill="none" stroke="#222" stroke-width="1" stroke-linecap="butt" stroke-linejoin="miter"/>
<path d="M609.1,1052.5 L610.9,1053.38 L607.3,1055.12 L610.9,1056.88 L607.3,1058.62 L610.9,1060.38 L607.3,1062.12 L610.9,1063.88 L607.3,1065.62 L609.1,1066.5" fill="none" stroke="#222" stroke-width="1" stroke-linecap="butt" stroke-linejoin="miter"/>
<path d="M609.1,1068.5 L610.9,1069.31 L607.3,1070.94 L610.9,1072.56 L607.3,1074.19 L610.9,1075.81 L607.3,1077.44 L610.9,1079.06 L607.3,1080.69 L609.1,1081.5" fill="none" stroke="#222" stroke-width="1" stroke-linecap="butt" stroke-linejoin="miter"/>
<path d="M610.1,1029.6 L610.1,1033.6 L617.4,1033.6 L617.4,1068.2 L609.1,1068.2" fill="none" stroke="#222" stroke-width="1.1" stroke-linecap="butt" stroke-linejoin="miter"/>
<path d="M609.1,1051.5 L603.6,1051.5 L603.6,1086 L609.6,1086 L609.6,1090.6" fill="none" stroke="#222" stroke-width="1.1" stroke-linecap="butt" stroke-linejoin="miter"/>
<circle cx="636.2" cy="1037.1" r="1.8" fill="#111"/>
<circle cx="636.2" cy="1051.5" r="1.8" fill="#111"/>
<circle cx="636.2" cy="1067.6" r="1.8" fill="#111"/>
<circle cx="636.2" cy="1082.6" r="1.5" fill="#111"/>
<path d="M636.2,1038.5 L638,1039.25 L634.4,1040.75 L638,1042.25 L634.4,1043.75 L638,1045.25 L634.4,1046.75 L638,1048.25 L634.4,1049.75 L636.2,1050.5" fill="none" stroke="#222" stroke-width="1" stroke-linecap="butt" stroke-linejoin="miter"/>
<path d="M636.2,1052.5 L638,1053.38 L634.4,1055.12 L638,1056.88 L634.4,1058.62 L638,1060.38 L634.4,1062.12 L638,1063.88 L634.4,1065.62 L636.2,1066.5" fill="none" stroke="#222" stroke-width="1" stroke-linecap="butt" stroke-linejoin="miter"/>
<path d="M636.2,1068.5 L638,1069.31 L634.4,1070.94 L638,1072.56 L634.4,1074.19 L638,1075.81 L634.4,1077.44 L638,1079.06 L634.4,1080.69 L636.2,1081.5" fill="none" stroke="#222" stroke-width="1" stroke-linecap="butt" stroke-linejoin="miter"/>
<path d="M637.2,1029.6 L637.2,1033.6 L644.5,1033.6 L644.5,1068.2 L636.2,1068.2" fill="none" stroke="#222" stroke-width="1.1" stroke-linecap="butt" stroke-linejoin="miter"/>
<path d="M636.2,1051.5 L630.7,1051.5 L630.7,1086 L636.7,1086 L636.7,1090.6" fill="none" stroke="#222" stroke-width="1.1" stroke-linecap="butt" stroke-linejoin="miter"/>
<circle cx="660.4" cy="1037.1" r="1.8" fill="#111"/>
<circle cx="660.4" cy="1051.5" r="1.8" fill="#111"/>
<circle cx="660.4" cy="1067.6" r="1.8" fill="#111"/>
<circle cx="660.4" cy="1082.6" r="1.5" fill="#111"/>
<path d="M660.4,1038.5 L662.2,1039.25 L658.6,1040.75 L662.2,1042.25 L658.6,1043.75 L662.2,1045.25 L658.6,1046.75 L662.2,1048.25 L658.6,1049.75 L660.4,1050.5" fill="none" stroke="#222" stroke-width="1" stroke-linecap="butt" stroke-linejoin="miter"/>
<path d="M660.4,1052.5 L662.2,1053.38 L658.6,1055.12 L662.2,1056.88 L658.6,1058.62 L662.2,1060.38 L658.6,1062.12 L662.2,1063.88 L658.6,1065.62 L660.4,1066.5" fill="none" stroke="#222" stroke-width="1" stroke-linecap="butt" stroke-linejoin="miter"/>
<path d="M660.4,1068.5 L662.2,1069.31 L658.6,1070.94 L662.2,1072.56 L658.6,1074.19 L662.2,1075.81 L658.6,1077.44 L662.2,1079.06 L658.6,1080.69 L660.4,1081.5" fill="none" stroke="#222" stroke-width="1" stroke-linecap="butt" stroke-linejoin="miter"/>
<path d="M661.4,1029.6 L661.4,1033.6 L668.7,1033.6 L668.7,1068.2 L660.4,1068.2" fill="none" stroke="#222" stroke-width="1.1" stroke-linecap="butt" stroke-linejoin="miter"/>
<path d="M660.4,1051.5 L654.9,1051.5 L654.9,1086 L660.9,1086 L660.9,1090.6" fill="none" stroke="#222" stroke-width="1.1" stroke-linecap="butt" stroke-linejoin="miter"/>
<circle cx="687.1" cy="1037.1" r="1.8" fill="#111"/>
<circle cx="687.1" cy="1051.5" r="1.8" fill="#111"/>
<circle cx="687.1" cy="1067.6" r="1.8" fill="#111"/>
<circle cx="687.1" cy="1082.6" r="1.5" fill="#111"/>
<path d="M687.1,1038.5 L688.9,1039.25 L685.3,1040.75 L688.9,1042.25 L685.3,1043.75 L688.9,1045.25 L685.3,1046.75 L688.9,1048.25 L685.3,1049.75 L687.1,1050.5" fill="none" stroke="#222" stroke-width="1" stroke-linecap="butt" stroke-linejoin="miter"/>
<path d="M687.1,1052.5 L688.9,1053.38 L685.3,1055.12 L688.9,1056.88 L685.3,1058.62 L688.9,1060.38 L685.3,1062.12 L688.9,1063.88 L685.3,1065.62 L687.1,1066.5" fill="none" stroke="#222" stroke-width="1" stroke-linecap="butt" stroke-linejoin="miter"/>
<path d="M687.1,1068.5 L688.9,1069.31 L685.3,1070.94 L688.9,1072.56 L685.3,1074.19 L688.9,1075.81 L685.3,1077.44 L688.9,1079.06 L685.3,1080.69 L687.1,1081.5" fill="none" stroke="#222" stroke-width="1" stroke-linecap="butt" stroke-linejoin="miter"/>
<path d="M688.1,1029.6 L688.1,1033.6 L695.4,1033.6 L695.4,1068.2 L687.1,1068.2" fill="none" stroke="#222" stroke-width="1.1" stroke-linecap="butt" stroke-linejoin="miter"/>
<path d="M687.1,1051.5 L681.6,1051.5 L681.6,1086 L687.6,1086 L687.6,1090.6" fill="none" stroke="#222" stroke-width="1.1" stroke-linecap="butt" stroke-linejoin="miter"/>
<circle cx="712.5" cy="1037.1" r="1.8" fill="#111"/>
<circle cx="712.5" cy="1051.5" r="1.8" fill="#111"/>
<circle cx="712.5" cy="1067.6" r="1.8" fill="#111"/>
<circle cx="712.5" cy="1082.6" r="1.5" fill="#111"/>
<path d="M712.5,1038.5 L714.3,1039.25 L710.7,1040.75 L714.3,1042.25 L710.7,1043.75 L714.3,1045.25 L710.7,1046.75 L714.3,1048.25 L710.7,1049.75 L712.5,1050.5" fill="none" stroke="#222" stroke-width="1" stroke-linecap="butt" stroke-linejoin="miter"/>
<path d="M712.5,1052.5 L714.3,1053.38 L710.7,1055.12 L714.3,1056.88 L710.7,1058.62 L714.3,1060.38 L710.7,1062.12 L714.3,1063.88 L710.7,1065.62 L712.5,1066.5" fill="none" stroke="#222" stroke-width="1" stroke-linecap="butt" stroke-linejoin="miter"/>
<path d="M712.5,1068.5 L714.3,1069.31 L710.7,1070.94 L714.3,1072.56 L710.7,1074.19 L714.3,1075.81 L710.7,1077.44 L714.3,1079.06 L710.7,1080.69 L712.5,1081.5" fill="none" stroke="#222" stroke-width="1" stroke-linecap="butt" stroke-linejoin="miter"/>
<path d="M713.5,1029.6 L713.5,1033.6 L720.8,1033.6 L720.8,1068.2 L712.5,1068.2" fill="none" stroke="#222" stroke-width="1.1" stroke-linecap="butt" stroke-linejoin="miter"/>
<path d="M712.5,1051.5 L707,1051.5 L707,1086 L713,1086 L713,1090.6" fill="none" stroke="#222" stroke-width="1.1" stroke-linecap="butt" stroke-linejoin="miter"/>
<text x="99.8" y="1203.2" font-size="14.41" font-weight="bold" font-style="normal" fill="#222" stroke="#222" stroke-width="0.4" textLength="29.6" lengthAdjust="spacingAndGlyphs">Note:</text>
<g transform="translate(140.9,1203.2) scale(0.74,1) translate(-140.9,-1203.2)"><text x="140.9" y="1203.2" font-size="14.41" font-weight="bold" font-style="normal" fill="#222" stroke="#222" stroke-width="0.4" textLength="407.57" lengthAdjust="spacing">Model 899: N = 114 Leads, Model 898: N = 16 Leads.</text></g>
<g transform="translate(140.9,1218.6) scale(0.74,1) translate(-140.9,-1218.6)"><text x="140.9" y="1218.6" font-size="14.41" font-weight="bold" font-style="normal" fill="#222" stroke="#222" stroke-width="0.4" textLength="228.24" lengthAdjust="spacing">Custom circuits are available.</text></g>
<g transform="translate(319.2,1218.6) scale(0.74,1) translate(-319.2,-1218.6)"><text x="319.2" y="1218.6" font-size="14.41" font-weight="bold" font-style="normal" fill="#222" stroke="#222" stroke-width="0.4" textLength="125.14" lengthAdjust="spacing">Consult Factory.</text></g>
<rect x="81" y="1283.2" width="325" height="51.4" fill="none" stroke="#000" stroke-width="2.2"/>
<path d="M148.7,1283 L148.7,1335" fill="none" stroke="#000" stroke-width="2.1" stroke-linecap="butt" stroke-linejoin="miter"/>
<path d="M102.9,1300.8 H140 L135.2,1306.2 H117.5 L97.8,1329 H90.2 L109.9,1306.2 H100.4 Z" fill="#c4c4c4" stroke="none" stroke-width="0" stroke-linejoin="miter"/>
<path d="M103.5,1289.1 H140.3 L134.6,1295.7 H120 L116.3,1300.5 H107 L109.9,1295.7 H97.5 Z" fill="#000" stroke="none" stroke-width="0" stroke-linejoin="miter"/>
<path d="M99.7,1307 H108.2 L97.8,1318.2 H89 Z" fill="#000" stroke="none" stroke-width="0" stroke-linejoin="miter"/>
<g transform="translate(160.8,1293.2) scale(1.535,1.456) translate(-376.2,-274)">
<path d="M379.2,274 H387.8 C391.2,274 392.6,276 392.1,278.6 C391.7,280.6 390.3,282 388.8,282.6 C390.8,283.4 391.8,285.2 391.3,287.8 C390.7,290.8 388.2,292.2 384.6,292.2 H376.2 Z" fill="#000" stroke="none" stroke-width="0" stroke-linejoin="miter"/>
<ellipse cx="385.3" cy="279" rx="1.1" ry="1.0" fill="#fff"/>
<ellipse cx="384" cy="287.4" rx="1.1" ry="1.0" fill="#fff"/>
<path d="M396.6,274 H402.1 L399.8,292.2 H393 Z" fill="#000" stroke="none" stroke-width="0" stroke-linejoin="miter"/>
</g>
<path d="M160.3,1315.6 Q172,1306 186,1301.6 L186.6,1302.6 Q172,1307.5 160.3,1315.6 Z" fill="#fff" stroke="#fff" stroke-width="0.6" stroke-linejoin="miter"/>
<path d="M189,1300.8 L201,1299.3" fill="none" stroke="#fff" stroke-width="1.1" stroke-linecap="butt" stroke-linejoin="miter"/>
<text x="207.8" y="1319.3" font-size="31" font-weight="bold" font-style="italic" fill="#000" stroke="#000" stroke-width="1.3" textLength="186" lengthAdjust="spacingAndGlyphs">technologies</text>
<text x="470.8" y="1319.4" font-size="22.06" font-weight="bold" font-style="normal" fill="#000" stroke="#000" stroke-width="0.5" textLength="16" lengthAdjust="spacingAndGlyphs">4</text>
<text x="488.4" y="1319.4" font-size="22.06" font-weight="bold" font-style="normal" fill="#000" stroke="#000" stroke-width="0.5" textLength="7.4" lengthAdjust="spacingAndGlyphs">-</text>
<text x="500" y="1319.4" font-size="22.06" font-weight="bold" font-style="normal" fill="#000" stroke="#000" stroke-width="0.5" textLength="10.5" lengthAdjust="spacingAndGlyphs">1</text>
<text x="514" y="1319.4" font-size="22.06" font-weight="bold" font-style="normal" fill="#000" stroke="#000" stroke-width="0.5" textLength="15.5" lengthAdjust="spacingAndGlyphs">6</text>
<text x="531.3" y="1319.4" font-size="22.06" font-weight="bold" font-style="normal" fill="#000" stroke="#000" stroke-width="0.5" textLength="14.7" lengthAdjust="spacingAndGlyphs">3</text>
<text x="769.1" y="1319.2" font-size="20.59" font-weight="bold" font-style="normal" fill="#000" textLength="176.6" lengthAdjust="spacingAndGlyphs">Models 898, 899</text></svg></body></html>
